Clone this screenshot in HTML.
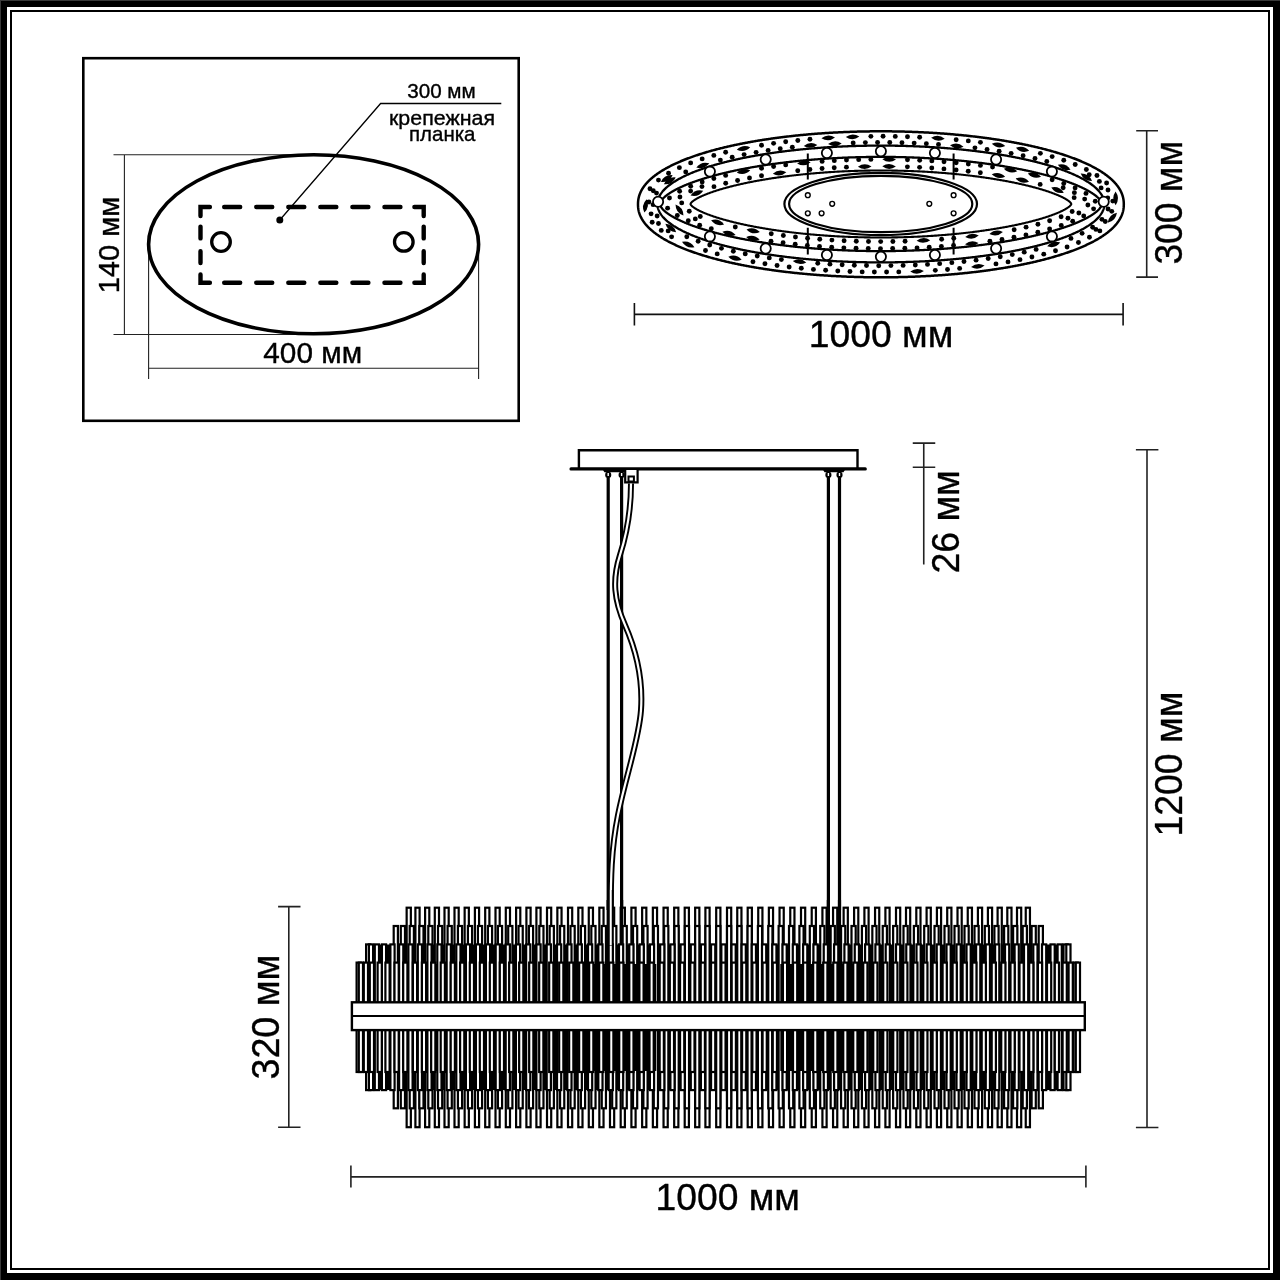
<!DOCTYPE html>
<html><head><meta charset="utf-8"><style>
html,body{margin:0;padding:0;background:#fff;width:1280px;height:1280px;overflow:hidden}
svg{display:block;font-family:"Liberation Sans",sans-serif;will-change:transform}
</style></head><body>
<svg width="1280" height="1280" viewBox="0 0 1280 1280"><rect x="0" y="0" width="1280" height="1280" fill="#000"/>
<rect x="0" y="0" width="1280" height="1" fill="#3a3a3a"/><rect x="0" y="0" width="1" height="1280" fill="#3a3a3a"/>
<rect x="7" y="7" width="1266" height="1266" fill="#fff"/>
<rect x="11" y="11" width="1258" height="1258" fill="none" stroke="#000" stroke-width="2"/>
<rect x="83.3" y="58.2" width="435.4" height="362.6" fill="none" stroke="#000" stroke-width="2.6"/>
<path d="M113.5 154.8H313 M113.5 334.5H313 M124.4 154.8V334.5 M148.6 255V379 M478.6 255V379 M148.6 368.2H478.6" stroke="#222" stroke-width="1.1" fill="none"/>
<ellipse cx="313.6" cy="244.3" rx="165" ry="89.5" fill="none" stroke="#000" stroke-width="3.6"/>
<path d="M200.5 216V207H209.9 M414.4 207H423.7V216 M200.5 274.5V282.7H209.9 M414.4 282.7H423.7V274.5 M224.2 207.0H240.2 M256.25 207.0H272.25 M288.3 207.0H304.3 M320.35 207.0H336.35 M352.4 207.0H368.4 M384.45 207.0H400.45 M224.2 282.7H240.2 M256.25 282.7H272.25 M288.3 282.7H304.3 M320.35 282.7H336.35 M352.4 282.7H368.4 M384.45 282.7H400.45 M200.5 226.6V238.4 M200.5 251.2V263 M423.7 226.6V238.4 M423.7 251.2V263" stroke="#000" stroke-width="4.4" stroke-linecap="round" stroke-linejoin="miter" fill="none"/>
<circle cx="221" cy="242" r="9.3" fill="none" stroke="#000" stroke-width="3.3"/>
<circle cx="403.8" cy="241.9" r="9.3" fill="none" stroke="#000" stroke-width="3.3"/>
<circle cx="279.8" cy="220" r="3.5" fill="#000"/>
<path d="M279.8 220L380.6 103.5H501.3" stroke="#000" stroke-width="1.3" fill="none"/>
<text x="407.2" y="97.8" font-size="19.5" font-family="Liberation Sans, sans-serif" stroke="#000" stroke-width="0.35" textLength="68.5" lengthAdjust="spacingAndGlyphs">300 мм</text>
<text x="389" y="125" font-size="20.4" font-family="Liberation Sans, sans-serif" stroke="#000" stroke-width="0.35" textLength="106" lengthAdjust="spacingAndGlyphs">крепежная</text>
<text x="409" y="140.6" font-size="20.4" font-family="Liberation Sans, sans-serif" stroke="#000" stroke-width="0.35" textLength="66.5" lengthAdjust="spacingAndGlyphs">планка</text>
<text transform="translate(118.9 293.3) rotate(-90)" x="0" y="0" font-size="29.3" font-family="Liberation Sans, sans-serif" stroke="#000" stroke-width="0.35" textLength="96.5" lengthAdjust="spacingAndGlyphs">140 мм</text>
<text x="263.3" y="363.4" font-size="28.8" font-family="Liberation Sans, sans-serif" stroke="#000" stroke-width="0.35" textLength="98.8" lengthAdjust="spacingAndGlyphs">400 мм</text>
<g fill="#000"><circle cx="1106.61" cy="182.96" r="2.45"/><circle cx="1096.95" cy="175.52" r="2.45"/><circle cx="1086.34" cy="169.52" r="2.45"/><circle cx="1075.21" cy="164.52" r="2.45"/><circle cx="1063.78" cy="160.26" r="2.45"/><circle cx="1052.15" cy="156.58" r="2.45"/><circle cx="1040.38" cy="153.37" r="2.45"/><circle cx="980.43" cy="142.33" r="2.45"/><circle cx="968.31" cy="140.9" r="2.45"/><circle cx="956.17" cy="139.68" r="2.45"/><circle cx="919.66" cy="137.18" r="2.45"/><circle cx="907.47" cy="136.72" r="2.45"/><circle cx="895.28" cy="136.42" r="2.45"/><circle cx="883.08" cy="136.31" r="2.45"/><circle cx="870.88" cy="136.36" r="2.45"/><circle cx="809.96" cy="139.29" r="2.45"/><circle cx="797.82" cy="140.44" r="2.45"/><circle cx="785.69" cy="141.8" r="2.45"/><circle cx="773.59" cy="143.37" r="2.45"/><circle cx="761.53" cy="145.19" r="2.45"/><circle cx="725.64" cy="152.32" r="2.45"/><circle cx="713.83" cy="155.38" r="2.45"/><circle cx="702.15" cy="158.89" r="2.45"/><circle cx="690.64" cy="162.92" r="2.45"/><circle cx="679.38" cy="167.64" r="2.45"/><circle cx="668.55" cy="173.24" r="2.45"/><circle cx="658.48" cy="180.1" r="2.45"/><circle cx="649.98" cy="188.8" r="2.45"/><circle cx="652.17" cy="222.31" r="2.45"/><circle cx="661.25" cy="230.41" r="2.45"/><circle cx="671.6" cy="236.86" r="2.45"/><circle cx="705.48" cy="250.56" r="2.45"/><circle cx="717.2" cy="253.92" r="2.45"/><circle cx="752.95" cy="261.75" r="2.45"/><circle cx="764.98" cy="263.75" r="2.45"/><circle cx="777.06" cy="265.49" r="2.45"/><circle cx="789.16" cy="267" r="2.45"/><circle cx="801.29" cy="268.3" r="2.45"/><circle cx="813.44" cy="269.39" r="2.45"/><circle cx="825.61" cy="270.29" r="2.45"/><circle cx="837.79" cy="271" r="2.45"/><circle cx="849.98" cy="271.53" r="2.45"/><circle cx="862.17" cy="271.88" r="2.45"/><circle cx="874.37" cy="272.06" r="2.45"/><circle cx="886.57" cy="272.07" r="2.45"/><circle cx="898.77" cy="271.9" r="2.45"/><circle cx="935.33" cy="270.35" r="2.45"/><circle cx="947.5" cy="269.46" r="2.45"/><circle cx="959.65" cy="268.38" r="2.45"/><circle cx="995.97" cy="263.88" r="2.45"/><circle cx="1008.01" cy="261.9" r="2.45"/><circle cx="1020" cy="259.64" r="2.45"/><circle cx="1031.92" cy="257.07" r="2.45"/><circle cx="1043.77" cy="254.15" r="2.45"/><circle cx="1055.5" cy="250.81" r="2.45"/><circle cx="1067.08" cy="246.97" r="2.45"/><circle cx="1078.44" cy="242.52" r="2.45"/><circle cx="1089.45" cy="237.27" r="2.45"/><circle cx="1099.85" cy="230.91" r="2.45"/><circle cx="1107.71" cy="198.07" r="2.45"/><circle cx="1101.13" cy="187.92" r="2.45"/><circle cx="1046.78" cy="161.55" r="2.45"/><circle cx="1034.99" cy="158.43" r="2.45"/><circle cx="1023.1" cy="155.71" r="2.45"/><circle cx="1011.13" cy="153.33" r="2.45"/><circle cx="999.11" cy="151.25" r="2.45"/><circle cx="987.05" cy="149.43" r="2.45"/><circle cx="974.95" cy="147.85" r="2.45"/><circle cx="938.51" cy="144.42" r="2.45"/><circle cx="926.34" cy="143.67" r="2.45"/><circle cx="914.15" cy="143.1" r="2.45"/><circle cx="901.96" cy="142.71" r="2.45"/><circle cx="889.76" cy="142.5" r="2.45"/><circle cx="877.56" cy="142.46" r="2.45"/><circle cx="865.36" cy="142.59" r="2.45"/><circle cx="853.16" cy="142.9" r="2.45"/><circle cx="792.33" cy="147.22" r="2.45"/><circle cx="780.22" cy="148.69" r="2.45"/><circle cx="768.14" cy="150.39" r="2.45"/><circle cx="756.1" cy="152.35" r="2.45"/><circle cx="744.11" cy="154.6" r="2.45"/><circle cx="732.18" cy="157.16" r="2.45"/><circle cx="720.34" cy="160.09" r="2.45"/><circle cx="685.74" cy="171.9" r="2.45"/><circle cx="656.5" cy="193.12" r="2.45"/><circle cx="653.12" cy="204.65" r="2.45"/><circle cx="657.14" cy="215.98" r="2.45"/><circle cx="686.8" cy="236.7" r="2.45"/><circle cx="698.14" cy="241.19" r="2.45"/><circle cx="709.72" cy="245.03" r="2.45"/><circle cx="721.46" cy="248.34" r="2.45"/><circle cx="733.31" cy="251.23" r="2.45"/><circle cx="745.25" cy="253.76" r="2.45"/><circle cx="757.25" cy="255.98" r="2.45"/><circle cx="769.29" cy="257.91" r="2.45"/><circle cx="781.37" cy="259.59" r="2.45"/><circle cx="817.78" cy="263.31" r="2.45"/><circle cx="829.95" cy="264.15" r="2.45"/><circle cx="842.14" cy="264.8" r="2.45"/><circle cx="854.33" cy="265.26" r="2.45"/><circle cx="866.52" cy="265.56" r="2.45"/><circle cx="878.72" cy="265.68" r="2.45"/><circle cx="890.92" cy="265.62" r="2.45"/><circle cx="903.12" cy="265.39" r="2.45"/><circle cx="915.31" cy="264.98" r="2.45"/><circle cx="927.5" cy="264.4" r="2.45"/><circle cx="939.67" cy="263.63" r="2.45"/><circle cx="951.84" cy="262.67" r="2.45"/><circle cx="963.98" cy="261.51" r="2.45"/><circle cx="976.1" cy="260.14" r="2.45"/><circle cx="988.2" cy="258.54" r="2.45"/><circle cx="1000.26" cy="256.7" r="2.45"/><circle cx="1012.27" cy="254.59" r="2.45"/><circle cx="1024.23" cy="252.17" r="2.45"/><circle cx="1036.12" cy="249.42" r="2.45"/><circle cx="1070.98" cy="238.39" r="2.45"/><circle cx="1082.1" cy="233.37" r="2.45"/><circle cx="1092.63" cy="227.22" r="2.45"/><circle cx="1101.93" cy="219.37" r="2.45"/><circle cx="1108.04" cy="208.95" r="2.45"/><circle cx="1095.26" cy="201.21" r="2.45"/><circle cx="1085.99" cy="193.4" r="2.45"/><circle cx="1075.12" cy="187.88" r="2.45"/><circle cx="1063.76" cy="183.44" r="2.45"/><circle cx="1052.15" cy="179.7" r="2.45"/><circle cx="992.52" cy="167.09" r="2.45"/><circle cx="980.43" cy="165.42" r="2.45"/><circle cx="968.32" cy="163.98" r="2.45"/><circle cx="956.18" cy="162.75" r="2.45"/><circle cx="944.02" cy="161.72" r="2.45"/><circle cx="931.85" cy="160.89" r="2.45"/><circle cx="919.67" cy="160.23" r="2.45"/><circle cx="907.48" cy="159.76" r="2.45"/><circle cx="870.88" cy="159.41" r="2.45"/><circle cx="858.69" cy="159.64" r="2.45"/><circle cx="846.49" cy="160.05" r="2.45"/><circle cx="834.31" cy="160.63" r="2.45"/><circle cx="822.13" cy="161.4" r="2.45"/><circle cx="785.7" cy="164.88" r="2.45"/><circle cx="773.61" cy="166.46" r="2.45"/><circle cx="761.54" cy="168.28" r="2.45"/><circle cx="725.65" cy="175.41" r="2.45"/><circle cx="713.85" cy="178.49" r="2.45"/><circle cx="702.17" cy="182.03" r="2.45"/><circle cx="690.71" cy="186.19" r="2.45"/><circle cx="679.62" cy="191.26" r="2.45"/><circle cx="669.46" cy="197.97" r="2.45"/><circle cx="667.6" cy="208.16" r="2.45"/><circle cx="677.3" cy="215.47" r="2.45"/><circle cx="688.27" cy="220.8" r="2.45"/><circle cx="699.67" cy="225.13" r="2.45"/><circle cx="711.31" cy="228.79" r="2.45"/><circle cx="770.99" cy="241.16" r="2.45"/><circle cx="783.08" cy="242.8" r="2.45"/><circle cx="795.2" cy="244.2" r="2.45"/><circle cx="807.34" cy="245.4" r="2.45"/><circle cx="819.5" cy="246.41" r="2.45"/><circle cx="831.67" cy="247.22" r="2.45"/><circle cx="843.86" cy="247.84" r="2.45"/><circle cx="856.05" cy="248.29" r="2.45"/><circle cx="868.25" cy="248.56" r="2.45"/><circle cx="880.45" cy="248.65" r="2.45"/><circle cx="892.65" cy="248.57" r="2.45"/><circle cx="904.84" cy="248.32" r="2.45"/><circle cx="917.03" cy="247.88" r="2.45"/><circle cx="929.22" cy="247.27" r="2.45"/><circle cx="941.39" cy="246.47" r="2.45"/><circle cx="953.55" cy="245.49" r="2.45"/><circle cx="989.91" cy="241.29" r="2.45"/><circle cx="1001.97" cy="239.44" r="2.45"/><circle cx="1013.98" cy="237.32" r="2.45"/><circle cx="1025.94" cy="234.92" r="2.45"/><circle cx="1037.83" cy="232.18" r="2.45"/><circle cx="1049.62" cy="229.04" r="2.45"/><circle cx="1061.27" cy="225.42" r="2.45"/><circle cx="1072.69" cy="221.15" r="2.45"/><circle cx="1083.71" cy="215.92" r="2.45"/><circle cx="1093.59" cy="208.83" r="2.45"/><circle cx="1074.15" cy="197.67" r="2.45"/><circle cx="1040.16" cy="184.41" r="2.45"/><circle cx="980.33" cy="172.72" r="2.45"/><circle cx="968.23" cy="171.22" r="2.45"/><circle cx="956.09" cy="169.95" r="2.45"/><circle cx="943.94" cy="168.88" r="2.45"/><circle cx="931.77" cy="168.01" r="2.45"/><circle cx="919.59" cy="167.34" r="2.45"/><circle cx="907.4" cy="166.85" r="2.45"/><circle cx="846.42" cy="167.15" r="2.45"/><circle cx="834.23" cy="167.76" r="2.45"/><circle cx="822.06" cy="168.56" r="2.45"/><circle cx="809.9" cy="169.55" r="2.45"/><circle cx="797.76" cy="170.76" r="2.45"/><circle cx="761.5" cy="175.74" r="2.45"/><circle cx="749.5" cy="177.93" r="2.45"/><circle cx="737.56" cy="180.43" r="2.45"/><circle cx="725.71" cy="183.31" r="2.45"/><circle cx="713.98" cy="186.65" r="2.45"/><circle cx="681.71" cy="202.92" r="2.45"/><circle cx="689.27" cy="211.31" r="2.45"/><circle cx="700.28" cy="216.53" r="2.45"/><circle cx="735.3" cy="227.05" r="2.45"/><circle cx="771.26" cy="233.82" r="2.45"/><circle cx="783.34" cy="235.52" r="2.45"/><circle cx="795.45" cy="236.99" r="2.45"/><circle cx="807.59" cy="238.23" r="2.45"/><circle cx="819.74" cy="239.27" r="2.45"/><circle cx="831.91" cy="240.11" r="2.45"/><circle cx="844.1" cy="240.75" r="2.45"/><circle cx="856.29" cy="241.21" r="2.45"/><circle cx="868.49" cy="241.49" r="2.45"/><circle cx="880.69" cy="241.58" r="2.45"/><circle cx="892.88" cy="241.49" r="2.45"/><circle cx="905.08" cy="241.22" r="2.45"/><circle cx="941.63" cy="239.3" r="2.45"/><circle cx="953.78" cy="238.27" r="2.45"/><circle cx="1014.15" cy="229.71" r="2.45"/><circle cx="1026.08" cy="227.15" r="2.45"/><circle cx="1037.92" cy="224.2" r="2.45"/><circle cx="1049.63" cy="220.78" r="2.45"/><circle cx="1061.12" cy="216.69" r="2.45"/><circle cx="1072.16" cy="211.52" r="2.45"/><circle cx="1084.68" cy="199.12" r="2.45"/><circle cx="1074.38" cy="192.63" r="2.45"/><circle cx="1063.18" cy="187.81" r="2.45"/><circle cx="701.95" cy="186.58" r="2.45"/><circle cx="690.63" cy="191.11" r="2.45"/><circle cx="679.94" cy="196.95" r="2.45"/><circle cx="695.31" cy="218.9" r="2.45"/><circle cx="1067.92" cy="218.31" r="2.45"/><circle cx="1078.87" cy="212.95" r="2.45"/><circle cx="1087.88" cy="204.97" r="2.45"/><circle cx="1112.78" cy="201.09" r="2.45"/><circle cx="1108" cy="190" r="2.45"/><circle cx="1099.39" cy="181.42" r="2.45"/><circle cx="1089.21" cy="174.72" r="2.45"/><circle cx="653.27" cy="190.74" r="2.45"/><circle cx="648.92" cy="201.99" r="2.45"/><circle cx="651.09" cy="213.84" r="2.45"/><circle cx="658.47" cy="223.47" r="2.45"/><circle cx="668.14" cy="230.88" r="2.45"/><circle cx="1095.93" cy="229.38" r="2.45"/><circle cx="1105.25" cy="221.54" r="2.45"/><circle cx="1111.76" cy="211.33" r="2.45"/><path transform="translate(1115.61 198.34) rotate(-90.23)" d="M-6.8 0Q0 -4.8 6.8 0Q0 4.8 -6.8 0Z"/><path transform="translate(1022.54 149.31) rotate(-167.54)" d="M-6.8 0Q0 -4.8 6.8 0Q0 4.8 -6.8 0Z"/><path transform="translate(998.54 144.95) rotate(-170.38)" d="M-6.8 0Q0 -4.8 6.8 0Q0 4.8 -6.8 0Z"/><path transform="translate(937.93 138.24) rotate(-175.64)" d="M-6.8 0Q0 -4.8 6.8 0Q0 4.8 -6.8 0Z"/><path transform="translate(852.58 136.79) rotate(178.54)" d="M-6.8 0Q0 -4.8 6.8 0Q0 4.8 -6.8 0Z"/><path transform="translate(828.21 137.96) rotate(176.83)" d="M-6.8 0Q0 -4.8 6.8 0Q0 4.8 -6.8 0Z"/><path transform="translate(743.52 148.45) rotate(169.56)" d="M-6.8 0Q0 -4.8 6.8 0Q0 4.8 -6.8 0Z"/><path transform="translate(645.51 205.89) rotate(99.9)" d="M-6.8 0Q0 -4.8 6.8 0Q0 4.8 -6.8 0Z"/><path transform="translate(688.24 244.43) rotate(23.56)" d="M-6.8 0Q0 -4.8 6.8 0Q0 4.8 -6.8 0Z"/><path transform="translate(735 258.17) rotate(13.1)" d="M-6.8 0Q0 -4.8 6.8 0Q0 4.8 -6.8 0Z"/><path transform="translate(917.06 271.3) rotate(-2)" d="M-6.8 0Q0 -4.8 6.8 0Q0 4.8 -6.8 0Z"/><path transform="translate(977.84 266.35) rotate(-6.51)" d="M-6.8 0Q0 -4.8 6.8 0Q0 4.8 -6.8 0Z"/><path transform="translate(1112.32 217.84) rotate(-47.39)" d="M-6.8 0Q0 -4.8 6.8 0Q0 4.8 -6.8 0Z"/><path transform="translate(1086.36 177.25) rotate(-146.53)" d="M-6.8 0Q0 -4.8 6.8 0Q0 4.8 -6.8 0Z"/><path transform="translate(1064.18 167.22) rotate(-158.26)" d="M-6.8 0Q0 -4.8 6.8 0Q0 4.8 -6.8 0Z"/><path transform="translate(956.75 145.93) rotate(-174.13)" d="M-6.8 0Q0 -4.8 6.8 0Q0 4.8 -6.8 0Z"/><path transform="translate(834.88 143.72) rotate(177.27)" d="M-6.8 0Q0 -4.8 6.8 0Q0 4.8 -6.8 0Z"/><path transform="translate(810.55 145.44) rotate(175.51)" d="M-6.8 0Q0 -4.8 6.8 0Q0 4.8 -6.8 0Z"/><path transform="translate(702.83 165.39) rotate(162.76)" d="M-6.8 0Q0 -4.8 6.8 0Q0 4.8 -6.8 0Z"/><path transform="translate(669.79 180.79) rotate(150.29)" d="M-6.8 0Q0 -4.8 6.8 0Q0 4.8 -6.8 0Z"/><path transform="translate(670.75 227.99) rotate(37.92)" d="M-6.8 0Q0 -4.8 6.8 0Q0 4.8 -6.8 0Z"/><path transform="translate(799.56 261.66) rotate(6.31)" d="M-6.8 0Q0 -4.8 6.8 0Q0 4.8 -6.8 0Z"/><path transform="translate(1053.72 244.45) rotate(-16.03)" d="M-6.8 0Q0 -4.8 6.8 0Q0 4.8 -6.8 0Z"/><path transform="translate(1034.45 175.06) rotate(-165.69)" d="M-6.8 0Q0 -4.8 6.8 0Q0 4.8 -6.8 0Z"/><path transform="translate(1010.57 170.08) rotate(-169.06)" d="M-6.8 0Q0 -4.8 6.8 0Q0 4.8 -6.8 0Z"/><path transform="translate(889.18 159.41) rotate(-179.02)" d="M-6.8 0Q0 -4.8 6.8 0Q0 4.8 -6.8 0Z"/><path transform="translate(803.9 162.94) rotate(175.04)" d="M-6.8 0Q0 -4.8 6.8 0Q0 4.8 -6.8 0Z"/><path transform="translate(743.54 171.54) rotate(169.56)" d="M-6.8 0Q0 -4.8 6.8 0Q0 4.8 -6.8 0Z"/><path transform="translate(729.03 233.34) rotate(14.01)" d="M-6.8 0Q0 -4.8 6.8 0Q0 4.8 -6.8 0Z"/><path transform="translate(752.93 238.22) rotate(10.75)" d="M-6.8 0Q0 -4.8 6.8 0Q0 4.8 -6.8 0Z"/><path transform="translate(971.76 243.6) rotate(-6.05)" d="M-6.8 0Q0 -4.8 6.8 0Q0 4.8 -6.8 0Z"/><path transform="translate(1057.55 190.07) rotate(-157.25)" d="M-6.8 0Q0 -4.8 6.8 0Q0 4.8 -6.8 0Z"/><path transform="translate(1022.38 180.07) rotate(-166.67)" d="M-6.8 0Q0 -4.8 6.8 0Q0 4.8 -6.8 0Z"/><path transform="translate(998.43 175.46) rotate(-169.9)" d="M-6.8 0Q0 -4.8 6.8 0Q0 4.8 -6.8 0Z"/><path transform="translate(889.1 166.48) rotate(-179.02)" d="M-6.8 0Q0 -4.8 6.8 0Q0 4.8 -6.8 0Z"/><path transform="translate(864.71 166.6) rotate(179.28)" d="M-6.8 0Q0 -4.8 6.8 0Q0 4.8 -6.8 0Z"/><path transform="translate(779.6 173.01) rotate(172.77)" d="M-6.8 0Q0 -4.8 6.8 0Q0 4.8 -6.8 0Z"/><path transform="translate(696.87 193.1) rotate(158.97)" d="M-6.8 0Q0 -4.8 6.8 0Q0 4.8 -6.8 0Z"/><path transform="translate(717.61 222.37) rotate(17.82)" d="M-6.8 0Q0 -4.8 6.8 0Q0 4.8 -6.8 0Z"/><path transform="translate(753.22 230.74) rotate(11.33)" d="M-6.8 0Q0 -4.8 6.8 0Q0 4.8 -6.8 0Z"/><path transform="translate(923.36 240.45) rotate(-2.57)" d="M-6.8 0Q0 -4.8 6.8 0Q0 4.8 -6.8 0Z"/><path transform="translate(971.98 236.31) rotate(-6.35)" d="M-6.8 0Q0 -4.8 6.8 0Q0 4.8 -6.8 0Z"/><path transform="translate(996.14 232.91) rotate(-8.57)" d="M-6.8 0Q0 -4.8 6.8 0Q0 4.8 -6.8 0Z"/><path transform="translate(679.48 210.01) rotate(54.42)" d="M-6.8 0Q0 -4.8 6.8 0Q0 4.8 -6.8 0Z"/><path transform="translate(666.75 178.57) rotate(149.99)" d="M-6.8 0Q0 -4.8 6.8 0Q0 4.8 -6.8 0Z"/></g>
<path d="M1123.8 204.3 L1123.8 203.83 L1123.79 203.41 L1123.78 203.01 L1123.76 202.61 L1123.74 202.22 L1123.72 201.83 L1123.69 201.45 L1123.65 201.08 L1123.61 200.71 L1123.57 200.34 L1123.52 199.97 L1123.47 199.6 L1123.41 199.24 L1123.35 198.88 L1123.28 198.52 L1123.21 198.16 L1123.13 197.81 L1123.05 197.46 L1122.97 197.1 L1122.88 196.75 L1122.78 196.4 L1122.68 196.06 L1122.58 195.71 L1122.47 195.36 L1122.36 195.02 L1122.24 194.67 L1122.12 194.33 L1121.99 193.99 L1121.86 193.65 L1121.72 193.31 L1121.58 192.97 L1121.44 192.64 L1121.29 192.3 L1121.13 191.96 L1120.97 191.63 L1120.81 191.3 L1120.64 190.96 L1120.47 190.63 L1120.29 190.3 L1120.11 189.97 L1119.92 189.64 L1119.73 189.31 L1119.54 188.99 L1119.34 188.66 L1119.13 188.33 L1118.92 188.01 L1118.71 187.68 L1118.49 187.36 L1118.27 187.04 L1118.04 186.71 L1117.81 186.39 L1117.57 186.07 L1117.33 185.75 L1117.09 185.43 L1116.84 185.11 L1116.58 184.8 L1116.33 184.48 L1116.06 184.16 L1115.8 183.85 L1115.52 183.53 L1115.25 183.22 L1114.97 182.9 L1114.68 182.59 L1114.39 182.28 L1114.1 181.97 L1113.8 181.66 L1113.49 181.35 L1113.19 181.04 L1112.87 180.73 L1112.56 180.42 L1112.24 180.12 L1111.91 179.81 L1111.58 179.5 L1111.25 179.2 L1110.91 178.89 L1110.57 178.59 L1110.22 178.29 L1109.87 177.99 L1109.51 177.69 L1109.15 177.39 L1108.79 177.09 L1108.42 176.79 L1108.04 176.49 L1107.67 176.19 L1107.28 175.89 L1106.9 175.6 L1106.51 175.3 L1106.11 175.01 L1105.71 174.71 L1105.31 174.42 L1104.9 174.13 L1104.49 173.84 L1104.07 173.55 L1103.65 173.26 L1103.23 172.97 L1102.8 172.68 L1102.37 172.39 L1101.93 172.1 L1101.49 171.82 L1101.04 171.53 L1100.59 171.25 L1100.14 170.96 L1099.68 170.68 L1099.22 170.4 L1098.75 170.12 L1098.28 169.83 L1097.8 169.55 L1097.33 169.28 L1096.84 169 L1096.35 168.72 L1095.86 168.44 L1095.37 168.17 L1094.87 167.89 L1094.36 167.62 L1093.86 167.34 L1093.35 167.07 L1092.83 166.8 L1092.31 166.53 L1091.79 166.26 L1091.26 165.99 L1090.73 165.72 L1090.19 165.45 L1089.65 165.18 L1089.11 164.91 L1088.56 164.65 L1088.01 164.38 L1087.45 164.12 L1086.89 163.86 L1086.33 163.6 L1085.76 163.33 L1085.19 163.07 L1084.61 162.81 L1084.03 162.55 L1083.45 162.3 L1082.86 162.04 L1082.27 161.78 L1081.68 161.53 L1081.08 161.27 L1080.48 161.02 L1079.87 160.77 L1079.26 160.52 L1078.65 160.26 L1078.03 160.01 L1077.41 159.77 L1076.79 159.52 L1076.16 159.27 L1075.52 159.02 L1074.89 158.78 L1074.25 158.53 L1073.61 158.29 L1072.96 158.05 L1072.31 157.8 L1071.65 157.56 L1071 157.32 L1070.33 157.08 L1069.67 156.85 L1069 156.61 L1068.33 156.37 L1067.65 156.14 L1066.97 155.9 L1066.29 155.67 L1065.6 155.44 L1064.91 155.2 L1064.22 154.97 L1063.52 154.74 L1062.82 154.51 L1062.12 154.29 L1061.41 154.06 L1060.7 153.83 L1059.98 153.61 L1059.27 153.39 L1058.55 153.16 L1057.82 152.94 L1057.09 152.72 L1056.36 152.5 L1055.63 152.28 L1054.89 152.06 L1054.15 151.84 L1053.4 151.63 L1052.66 151.41 L1051.91 151.2 L1051.15 150.99 L1050.39 150.77 L1049.63 150.56 L1048.87 150.35 L1048.1 150.14 L1047.33 149.94 L1046.56 149.73 L1045.78 149.52 L1045 149.32 L1044.22 149.11 L1043.43 148.91 L1042.64 148.71 L1041.85 148.51 L1041.06 148.31 L1040.26 148.11 L1039.46 147.91 L1038.65 147.72 L1037.84 147.52 L1037.03 147.33 L1036.22 147.13 L1035.4 146.94 L1034.58 146.75 L1033.76 146.56 L1032.94 146.37 L1032.11 146.18 L1031.28 145.99 L1030.44 145.81 L1029.61 145.62 L1028.77 145.44 L1027.93 145.26 L1027.08 145.07 L1026.23 144.89 L1025.38 144.71 L1024.53 144.54 L1023.67 144.36 L1022.81 144.18 L1021.95 144.01 L1021.09 143.83 L1020.22 143.66 L1019.35 143.49 L1018.48 143.32 L1017.61 143.15 L1016.73 142.98 L1015.85 142.81 L1014.97 142.65 L1014.08 142.48 L1013.19 142.32 L1012.3 142.16 L1011.41 141.99 L1010.51 141.83 L1009.62 141.67 L1008.72 141.52 L1007.81 141.36 L1006.91 141.2 L1006 141.05 L1005.09 140.89 L1004.18 140.74 L1003.27 140.59 L1002.35 140.44 L1001.43 140.29 L1000.51 140.14 L999.59 140 L998.66 139.85 L997.73 139.71 L996.8 139.56 L995.87 139.42 L994.93 139.28 L994 139.14 L993.06 139 L992.12 138.87 L991.17 138.73 L990.23 138.59 L989.28 138.46 L988.33 138.33 L987.38 138.2 L986.43 138.07 L985.47 137.94 L984.51 137.81 L983.55 137.68 L982.59 137.56 L981.63 137.43 L980.66 137.31 L979.7 137.19 L978.73 137.07 L977.76 136.95 L976.78 136.83 L975.81 136.71 L974.83 136.6 L973.85 136.48 L972.87 136.37 L971.89 136.26 L970.91 136.15 L969.92 136.04 L968.94 135.93 L967.95 135.82 L966.96 135.71 L965.97 135.61 L964.97 135.51 L963.98 135.4 L962.98 135.3 L961.98 135.2 L960.98 135.1 L959.98 135.01 L958.98 134.91 L957.97 134.81 L956.97 134.72 L955.96 134.63 L954.95 134.54 L953.94 134.45 L952.93 134.36 L951.92 134.27 L950.9 134.18 L949.89 134.1 L948.87 134.02 L947.85 133.93 L946.83 133.85 L945.81 133.77 L944.79 133.69 L943.77 133.62 L942.74 133.54 L941.72 133.46 L940.69 133.39 L939.66 133.32 L938.63 133.25 L937.6 133.18 L936.57 133.11 L935.54 133.04 L934.51 132.98 L933.47 132.91 L932.44 132.85 L931.4 132.78 L930.36 132.72 L929.33 132.66 L928.29 132.61 L927.25 132.55 L926.21 132.49 L925.17 132.44 L924.12 132.38 L923.08 132.33 L922.03 132.28 L920.99 132.23 L919.94 132.18 L918.9 132.14 L917.85 132.09 L916.8 132.05 L915.75 132 L914.71 131.96 L913.66 131.92 L912.6 131.88 L911.55 131.84 L910.5 131.81 L909.45 131.77 L908.4 131.74 L907.34 131.7 L906.29 131.67 L905.24 131.64 L904.18 131.61 L903.13 131.58 L902.07 131.56 L901.01 131.53 L899.96 131.51 L898.9 131.49 L897.84 131.47 L896.79 131.45 L895.73 131.43 L894.67 131.41 L893.61 131.39 L892.55 131.38 L891.5 131.36 L890.44 131.35 L889.38 131.34 L888.32 131.33 L887.26 131.32 L886.2 131.32 L885.14 131.31 L884.08 131.31 L883.02 131.3 L881.96 131.3 L880.9 131.3 L879.84 131.3 L878.78 131.3 L877.72 131.31 L876.66 131.31 L875.6 131.32 L874.54 131.32 L873.48 131.33 L872.42 131.34 L871.36 131.35 L870.3 131.36 L869.25 131.38 L868.19 131.39 L867.13 131.41 L866.07 131.43 L865.01 131.45 L863.96 131.47 L862.9 131.49 L861.84 131.51 L860.79 131.53 L859.73 131.56 L858.67 131.58 L857.62 131.61 L856.56 131.64 L855.51 131.67 L854.46 131.7 L853.4 131.74 L852.35 131.77 L851.3 131.81 L850.25 131.84 L849.2 131.88 L848.14 131.92 L847.09 131.96 L846.05 132 L845 132.05 L843.95 132.09 L842.9 132.14 L841.86 132.18 L840.81 132.23 L839.77 132.28 L838.72 132.33 L837.68 132.38 L836.63 132.44 L835.59 132.49 L834.55 132.55 L833.51 132.61 L832.47 132.66 L831.44 132.72 L830.4 132.78 L829.36 132.85 L828.33 132.91 L827.29 132.98 L826.26 133.04 L825.23 133.11 L824.2 133.18 L823.17 133.25 L822.14 133.32 L821.11 133.39 L820.08 133.46 L819.06 133.54 L818.03 133.62 L817.01 133.69 L815.99 133.77 L814.97 133.85 L813.95 133.93 L812.93 134.02 L811.91 134.1 L810.9 134.18 L809.88 134.27 L808.87 134.36 L807.86 134.45 L806.85 134.54 L805.84 134.63 L804.83 134.72 L803.83 134.81 L802.82 134.91 L801.82 135.01 L800.82 135.1 L799.82 135.2 L798.82 135.3 L797.82 135.4 L796.83 135.51 L795.83 135.61 L794.84 135.71 L793.85 135.82 L792.86 135.93 L791.88 136.04 L790.89 136.15 L789.91 136.26 L788.93 136.37 L787.95 136.48 L786.97 136.6 L785.99 136.71 L785.02 136.83 L784.04 136.95 L783.07 137.07 L782.1 137.19 L781.14 137.31 L780.17 137.43 L779.21 137.56 L778.25 137.68 L777.29 137.81 L776.33 137.94 L775.37 138.07 L774.42 138.2 L773.47 138.33 L772.52 138.46 L771.57 138.59 L770.63 138.73 L769.68 138.87 L768.74 139 L767.8 139.14 L766.87 139.28 L765.93 139.42 L765 139.56 L764.07 139.71 L763.14 139.85 L762.21 140 L761.29 140.14 L760.37 140.29 L759.45 140.44 L758.53 140.59 L757.62 140.74 L756.71 140.89 L755.8 141.05 L754.89 141.2 L753.99 141.36 L753.08 141.52 L752.18 141.67 L751.29 141.83 L750.39 141.99 L749.5 142.16 L748.61 142.32 L747.72 142.48 L746.83 142.65 L745.95 142.81 L745.07 142.98 L744.19 143.15 L743.32 143.32 L742.45 143.49 L741.58 143.66 L740.71 143.83 L739.85 144.01 L738.99 144.18 L738.13 144.36 L737.27 144.54 L736.42 144.71 L735.57 144.89 L734.72 145.07 L733.87 145.26 L733.03 145.44 L732.19 145.62 L731.36 145.81 L730.52 145.99 L729.69 146.18 L728.86 146.37 L728.04 146.56 L727.22 146.75 L726.4 146.94 L725.58 147.13 L724.77 147.33 L723.96 147.52 L723.15 147.72 L722.34 147.91 L721.54 148.11 L720.74 148.31 L719.95 148.51 L719.16 148.71 L718.37 148.91 L717.58 149.11 L716.8 149.32 L716.02 149.52 L715.24 149.73 L714.47 149.94 L713.7 150.14 L712.93 150.35 L712.17 150.56 L711.41 150.77 L710.65 150.99 L709.89 151.2 L709.14 151.41 L708.4 151.63 L707.65 151.84 L706.91 152.06 L706.17 152.28 L705.44 152.5 L704.71 152.72 L703.98 152.94 L703.25 153.16 L702.53 153.39 L701.82 153.61 L701.1 153.83 L700.39 154.06 L699.68 154.29 L698.98 154.51 L698.28 154.74 L697.58 154.97 L696.89 155.2 L696.2 155.44 L695.51 155.67 L694.83 155.9 L694.15 156.14 L693.47 156.37 L692.8 156.61 L692.13 156.85 L691.47 157.08 L690.8 157.32 L690.15 157.56 L689.49 157.8 L688.84 158.05 L688.19 158.29 L687.55 158.53 L686.91 158.78 L686.28 159.02 L685.64 159.27 L685.01 159.52 L684.39 159.77 L683.77 160.01 L683.15 160.26 L682.54 160.52 L681.93 160.77 L681.32 161.02 L680.72 161.27 L680.12 161.53 L679.53 161.78 L678.94 162.04 L678.35 162.3 L677.77 162.55 L677.19 162.81 L676.61 163.07 L676.04 163.33 L675.47 163.6 L674.91 163.86 L674.35 164.12 L673.79 164.38 L673.24 164.65 L672.69 164.91 L672.15 165.18 L671.61 165.45 L671.07 165.72 L670.54 165.99 L670.01 166.26 L669.49 166.53 L668.97 166.8 L668.45 167.07 L667.94 167.34 L667.44 167.62 L666.93 167.89 L666.43 168.17 L665.94 168.44 L665.45 168.72 L664.96 169 L664.47 169.28 L664 169.55 L663.52 169.83 L663.05 170.12 L662.58 170.4 L662.12 170.68 L661.66 170.96 L661.21 171.25 L660.76 171.53 L660.31 171.82 L659.87 172.1 L659.43 172.39 L659 172.68 L658.57 172.97 L658.15 173.26 L657.73 173.55 L657.31 173.84 L656.9 174.13 L656.49 174.42 L656.09 174.71 L655.69 175.01 L655.29 175.3 L654.9 175.6 L654.52 175.89 L654.13 176.19 L653.76 176.49 L653.38 176.79 L653.01 177.09 L652.65 177.39 L652.29 177.69 L651.93 177.99 L651.58 178.29 L651.23 178.59 L650.89 178.89 L650.55 179.2 L650.22 179.5 L649.89 179.81 L649.56 180.12 L649.24 180.42 L648.93 180.73 L648.61 181.04 L648.31 181.35 L648 181.66 L647.7 181.97 L647.41 182.28 L647.12 182.59 L646.83 182.9 L646.55 183.22 L646.28 183.53 L646 183.85 L645.74 184.16 L645.47 184.48 L645.22 184.8 L644.96 185.11 L644.71 185.43 L644.47 185.75 L644.23 186.07 L643.99 186.39 L643.76 186.71 L643.53 187.04 L643.31 187.36 L643.09 187.68 L642.88 188.01 L642.67 188.33 L642.46 188.66 L642.26 188.99 L642.07 189.31 L641.88 189.64 L641.69 189.97 L641.51 190.3 L641.33 190.63 L641.16 190.96 L640.99 191.3 L640.83 191.63 L640.67 191.96 L640.51 192.3 L640.36 192.64 L640.22 192.97 L640.08 193.31 L639.94 193.65 L639.81 193.99 L639.68 194.33 L639.56 194.67 L639.44 195.02 L639.33 195.36 L639.22 195.71 L639.12 196.06 L639.02 196.4 L638.92 196.75 L638.83 197.1 L638.75 197.46 L638.67 197.81 L638.59 198.16 L638.52 198.52 L638.45 198.88 L638.39 199.24 L638.33 199.6 L638.28 199.97 L638.23 200.34 L638.19 200.71 L638.15 201.08 L638.11 201.45 L638.08 201.83 L638.06 202.22 L638.04 202.61 L638.02 203.01 L638.01 203.41 L638 203.83 L638 204.3 L638 204.77 L638.01 205.19 L638.02 205.59 L638.04 205.99 L638.06 206.38 L638.08 206.77 L638.11 207.15 L638.15 207.52 L638.19 207.89 L638.23 208.26 L638.28 208.63 L638.33 209 L638.39 209.36 L638.45 209.72 L638.52 210.08 L638.59 210.44 L638.67 210.79 L638.75 211.14 L638.83 211.5 L638.92 211.85 L639.02 212.2 L639.12 212.54 L639.22 212.89 L639.33 213.24 L639.44 213.58 L639.56 213.93 L639.68 214.27 L639.81 214.61 L639.94 214.95 L640.08 215.29 L640.22 215.63 L640.36 215.96 L640.51 216.3 L640.67 216.64 L640.83 216.97 L640.99 217.3 L641.16 217.64 L641.33 217.97 L641.51 218.3 L641.69 218.63 L641.88 218.96 L642.07 219.29 L642.26 219.61 L642.46 219.94 L642.67 220.27 L642.88 220.59 L643.09 220.92 L643.31 221.24 L643.53 221.56 L643.76 221.89 L643.99 222.21 L644.23 222.53 L644.47 222.85 L644.71 223.17 L644.96 223.49 L645.22 223.8 L645.47 224.12 L645.74 224.44 L646 224.75 L646.28 225.07 L646.55 225.38 L646.83 225.7 L647.12 226.01 L647.41 226.32 L647.7 226.63 L648 226.94 L648.31 227.25 L648.61 227.56 L648.93 227.87 L649.24 228.18 L649.56 228.48 L649.89 228.79 L650.22 229.1 L650.55 229.4 L650.89 229.71 L651.23 230.01 L651.58 230.31 L651.93 230.61 L652.29 230.91 L652.65 231.21 L653.01 231.51 L653.38 231.81 L653.76 232.11 L654.13 232.41 L654.52 232.71 L654.9 233 L655.29 233.3 L655.69 233.59 L656.09 233.89 L656.49 234.18 L656.9 234.47 L657.31 234.76 L657.73 235.05 L658.15 235.34 L658.57 235.63 L659 235.92 L659.43 236.21 L659.87 236.5 L660.31 236.78 L660.76 237.07 L661.21 237.35 L661.66 237.64 L662.12 237.92 L662.58 238.2 L663.05 238.48 L663.52 238.77 L664 239.05 L664.47 239.32 L664.96 239.6 L665.45 239.88 L665.94 240.16 L666.43 240.43 L666.93 240.71 L667.44 240.98 L667.94 241.26 L668.45 241.53 L668.97 241.8 L669.49 242.07 L670.01 242.34 L670.54 242.61 L671.07 242.88 L671.61 243.15 L672.15 243.42 L672.69 243.69 L673.24 243.95 L673.79 244.22 L674.35 244.48 L674.91 244.74 L675.47 245 L676.04 245.27 L676.61 245.53 L677.19 245.79 L677.77 246.05 L678.35 246.3 L678.94 246.56 L679.53 246.82 L680.12 247.07 L680.72 247.33 L681.32 247.58 L681.93 247.83 L682.54 248.08 L683.15 248.34 L683.77 248.59 L684.39 248.83 L685.01 249.08 L685.64 249.33 L686.28 249.58 L686.91 249.82 L687.55 250.07 L688.19 250.31 L688.84 250.55 L689.49 250.8 L690.15 251.04 L690.8 251.28 L691.47 251.52 L692.13 251.75 L692.8 251.99 L693.47 252.23 L694.15 252.46 L694.83 252.7 L695.51 252.93 L696.2 253.16 L696.89 253.4 L697.58 253.63 L698.28 253.86 L698.98 254.09 L699.68 254.31 L700.39 254.54 L701.1 254.77 L701.82 254.99 L702.53 255.21 L703.25 255.44 L703.98 255.66 L704.71 255.88 L705.44 256.1 L706.17 256.32 L706.91 256.54 L707.65 256.76 L708.4 256.97 L709.14 257.19 L709.89 257.4 L710.65 257.61 L711.41 257.83 L712.17 258.04 L712.93 258.25 L713.7 258.46 L714.47 258.66 L715.24 258.87 L716.02 259.08 L716.8 259.28 L717.58 259.49 L718.37 259.69 L719.16 259.89 L719.95 260.09 L720.74 260.29 L721.54 260.49 L722.34 260.69 L723.15 260.88 L723.96 261.08 L724.77 261.27 L725.58 261.47 L726.4 261.66 L727.22 261.85 L728.04 262.04 L728.86 262.23 L729.69 262.42 L730.52 262.61 L731.36 262.79 L732.19 262.98 L733.03 263.16 L733.87 263.34 L734.72 263.53 L735.57 263.71 L736.42 263.89 L737.27 264.06 L738.13 264.24 L738.99 264.42 L739.85 264.59 L740.71 264.77 L741.58 264.94 L742.45 265.11 L743.32 265.28 L744.19 265.45 L745.07 265.62 L745.95 265.79 L746.83 265.95 L747.72 266.12 L748.61 266.28 L749.5 266.44 L750.39 266.61 L751.29 266.77 L752.18 266.93 L753.08 267.08 L753.99 267.24 L754.89 267.4 L755.8 267.55 L756.71 267.71 L757.62 267.86 L758.53 268.01 L759.45 268.16 L760.37 268.31 L761.29 268.46 L762.21 268.6 L763.14 268.75 L764.07 268.89 L765 269.04 L765.93 269.18 L766.87 269.32 L767.8 269.46 L768.74 269.6 L769.68 269.73 L770.63 269.87 L771.57 270.01 L772.52 270.14 L773.47 270.27 L774.42 270.4 L775.37 270.53 L776.33 270.66 L777.29 270.79 L778.25 270.92 L779.21 271.04 L780.17 271.17 L781.14 271.29 L782.1 271.41 L783.07 271.53 L784.04 271.65 L785.02 271.77 L785.99 271.89 L786.97 272 L787.95 272.12 L788.93 272.23 L789.91 272.34 L790.89 272.45 L791.88 272.56 L792.86 272.67 L793.85 272.78 L794.84 272.89 L795.83 272.99 L796.83 273.09 L797.82 273.2 L798.82 273.3 L799.82 273.4 L800.82 273.5 L801.82 273.59 L802.82 273.69 L803.83 273.79 L804.83 273.88 L805.84 273.97 L806.85 274.06 L807.86 274.15 L808.87 274.24 L809.88 274.33 L810.9 274.42 L811.91 274.5 L812.93 274.58 L813.95 274.67 L814.97 274.75 L815.99 274.83 L817.01 274.91 L818.03 274.98 L819.06 275.06 L820.08 275.14 L821.11 275.21 L822.14 275.28 L823.17 275.35 L824.2 275.42 L825.23 275.49 L826.26 275.56 L827.29 275.62 L828.33 275.69 L829.36 275.75 L830.4 275.82 L831.44 275.88 L832.47 275.94 L833.51 275.99 L834.55 276.05 L835.59 276.11 L836.63 276.16 L837.68 276.22 L838.72 276.27 L839.77 276.32 L840.81 276.37 L841.86 276.42 L842.9 276.46 L843.95 276.51 L845 276.55 L846.05 276.6 L847.09 276.64 L848.14 276.68 L849.2 276.72 L850.25 276.76 L851.3 276.79 L852.35 276.83 L853.4 276.86 L854.46 276.9 L855.51 276.93 L856.56 276.96 L857.62 276.99 L858.67 277.02 L859.73 277.04 L860.79 277.07 L861.84 277.09 L862.9 277.11 L863.96 277.13 L865.01 277.15 L866.07 277.17 L867.13 277.19 L868.19 277.21 L869.25 277.22 L870.3 277.24 L871.36 277.25 L872.42 277.26 L873.48 277.27 L874.54 277.28 L875.6 277.28 L876.66 277.29 L877.72 277.29 L878.78 277.3 L879.84 277.3 L880.9 277.3 L881.96 277.3 L883.02 277.3 L884.08 277.29 L885.14 277.29 L886.2 277.28 L887.26 277.28 L888.32 277.27 L889.38 277.26 L890.44 277.25 L891.5 277.24 L892.55 277.22 L893.61 277.21 L894.67 277.19 L895.73 277.17 L896.79 277.15 L897.84 277.13 L898.9 277.11 L899.96 277.09 L901.01 277.07 L902.07 277.04 L903.13 277.02 L904.18 276.99 L905.24 276.96 L906.29 276.93 L907.34 276.9 L908.4 276.86 L909.45 276.83 L910.5 276.79 L911.55 276.76 L912.6 276.72 L913.66 276.68 L914.71 276.64 L915.75 276.6 L916.8 276.55 L917.85 276.51 L918.9 276.46 L919.94 276.42 L920.99 276.37 L922.03 276.32 L923.08 276.27 L924.12 276.22 L925.17 276.16 L926.21 276.11 L927.25 276.05 L928.29 275.99 L929.33 275.94 L930.36 275.88 L931.4 275.82 L932.44 275.75 L933.47 275.69 L934.51 275.62 L935.54 275.56 L936.57 275.49 L937.6 275.42 L938.63 275.35 L939.66 275.28 L940.69 275.21 L941.72 275.14 L942.74 275.06 L943.77 274.98 L944.79 274.91 L945.81 274.83 L946.83 274.75 L947.85 274.67 L948.87 274.58 L949.89 274.5 L950.9 274.42 L951.92 274.33 L952.93 274.24 L953.94 274.15 L954.95 274.06 L955.96 273.97 L956.97 273.88 L957.97 273.79 L958.98 273.69 L959.98 273.59 L960.98 273.5 L961.98 273.4 L962.98 273.3 L963.98 273.2 L964.97 273.09 L965.97 272.99 L966.96 272.89 L967.95 272.78 L968.94 272.67 L969.92 272.56 L970.91 272.45 L971.89 272.34 L972.87 272.23 L973.85 272.12 L974.83 272 L975.81 271.89 L976.78 271.77 L977.76 271.65 L978.73 271.53 L979.7 271.41 L980.66 271.29 L981.63 271.17 L982.59 271.04 L983.55 270.92 L984.51 270.79 L985.47 270.66 L986.43 270.53 L987.38 270.4 L988.33 270.27 L989.28 270.14 L990.23 270.01 L991.17 269.87 L992.12 269.73 L993.06 269.6 L994 269.46 L994.93 269.32 L995.87 269.18 L996.8 269.04 L997.73 268.89 L998.66 268.75 L999.59 268.6 L1000.51 268.46 L1001.43 268.31 L1002.35 268.16 L1003.27 268.01 L1004.18 267.86 L1005.09 267.71 L1006 267.55 L1006.91 267.4 L1007.81 267.24 L1008.72 267.08 L1009.62 266.93 L1010.51 266.77 L1011.41 266.61 L1012.3 266.44 L1013.19 266.28 L1014.08 266.12 L1014.97 265.95 L1015.85 265.79 L1016.73 265.62 L1017.61 265.45 L1018.48 265.28 L1019.35 265.11 L1020.22 264.94 L1021.09 264.77 L1021.95 264.59 L1022.81 264.42 L1023.67 264.24 L1024.53 264.06 L1025.38 263.89 L1026.23 263.71 L1027.08 263.53 L1027.93 263.34 L1028.77 263.16 L1029.61 262.98 L1030.44 262.79 L1031.28 262.61 L1032.11 262.42 L1032.94 262.23 L1033.76 262.04 L1034.58 261.85 L1035.4 261.66 L1036.22 261.47 L1037.03 261.27 L1037.84 261.08 L1038.65 260.88 L1039.46 260.69 L1040.26 260.49 L1041.06 260.29 L1041.85 260.09 L1042.64 259.89 L1043.43 259.69 L1044.22 259.49 L1045 259.28 L1045.78 259.08 L1046.56 258.87 L1047.33 258.66 L1048.1 258.46 L1048.87 258.25 L1049.63 258.04 L1050.39 257.83 L1051.15 257.61 L1051.91 257.4 L1052.66 257.19 L1053.4 256.97 L1054.15 256.76 L1054.89 256.54 L1055.63 256.32 L1056.36 256.1 L1057.09 255.88 L1057.82 255.66 L1058.55 255.44 L1059.27 255.21 L1059.98 254.99 L1060.7 254.77 L1061.41 254.54 L1062.12 254.31 L1062.82 254.09 L1063.52 253.86 L1064.22 253.63 L1064.91 253.4 L1065.6 253.16 L1066.29 252.93 L1066.97 252.7 L1067.65 252.46 L1068.33 252.23 L1069 251.99 L1069.67 251.75 L1070.33 251.52 L1071 251.28 L1071.65 251.04 L1072.31 250.8 L1072.96 250.55 L1073.61 250.31 L1074.25 250.07 L1074.89 249.82 L1075.52 249.58 L1076.16 249.33 L1076.79 249.08 L1077.41 248.83 L1078.03 248.59 L1078.65 248.34 L1079.26 248.08 L1079.87 247.83 L1080.48 247.58 L1081.08 247.33 L1081.68 247.07 L1082.27 246.82 L1082.86 246.56 L1083.45 246.3 L1084.03 246.05 L1084.61 245.79 L1085.19 245.53 L1085.76 245.27 L1086.33 245 L1086.89 244.74 L1087.45 244.48 L1088.01 244.22 L1088.56 243.95 L1089.11 243.69 L1089.65 243.42 L1090.19 243.15 L1090.73 242.88 L1091.26 242.61 L1091.79 242.34 L1092.31 242.07 L1092.83 241.8 L1093.35 241.53 L1093.86 241.26 L1094.36 240.98 L1094.87 240.71 L1095.37 240.43 L1095.86 240.16 L1096.35 239.88 L1096.84 239.6 L1097.33 239.32 L1097.8 239.05 L1098.28 238.77 L1098.75 238.48 L1099.22 238.2 L1099.68 237.92 L1100.14 237.64 L1100.59 237.35 L1101.04 237.07 L1101.49 236.78 L1101.93 236.5 L1102.37 236.21 L1102.8 235.92 L1103.23 235.63 L1103.65 235.34 L1104.07 235.05 L1104.49 234.76 L1104.9 234.47 L1105.31 234.18 L1105.71 233.89 L1106.11 233.59 L1106.51 233.3 L1106.9 233 L1107.28 232.71 L1107.67 232.41 L1108.04 232.11 L1108.42 231.81 L1108.79 231.51 L1109.15 231.21 L1109.51 230.91 L1109.87 230.61 L1110.22 230.31 L1110.57 230.01 L1110.91 229.71 L1111.25 229.4 L1111.58 229.1 L1111.91 228.79 L1112.24 228.48 L1112.56 228.18 L1112.87 227.87 L1113.19 227.56 L1113.49 227.25 L1113.8 226.94 L1114.1 226.63 L1114.39 226.32 L1114.68 226.01 L1114.97 225.7 L1115.25 225.38 L1115.52 225.07 L1115.8 224.75 L1116.06 224.44 L1116.33 224.12 L1116.58 223.8 L1116.84 223.49 L1117.09 223.17 L1117.33 222.85 L1117.57 222.53 L1117.81 222.21 L1118.04 221.89 L1118.27 221.56 L1118.49 221.24 L1118.71 220.92 L1118.92 220.59 L1119.13 220.27 L1119.34 219.94 L1119.54 219.61 L1119.73 219.29 L1119.92 218.96 L1120.11 218.63 L1120.29 218.3 L1120.47 217.97 L1120.64 217.64 L1120.81 217.3 L1120.97 216.97 L1121.13 216.64 L1121.29 216.3 L1121.44 215.96 L1121.58 215.63 L1121.72 215.29 L1121.86 214.95 L1121.99 214.61 L1122.12 214.27 L1122.24 213.93 L1122.36 213.58 L1122.47 213.24 L1122.58 212.89 L1122.68 212.54 L1122.78 212.2 L1122.88 211.85 L1122.97 211.5 L1123.05 211.14 L1123.13 210.79 L1123.21 210.44 L1123.28 210.08 L1123.35 209.72 L1123.41 209.36 L1123.47 209 L1123.52 208.63 L1123.57 208.26 L1123.61 207.89 L1123.65 207.52 L1123.69 207.15 L1123.72 206.77 L1123.74 206.38 L1123.76 205.99 L1123.78 205.59 L1123.79 205.19 L1123.8 204.77Z" fill="none" stroke="#000" stroke-width="2.5"/>
<path d="M1104.4 204 L1104.4 203.75 L1104.39 203.49 L1104.38 203.24 L1104.37 202.98 L1104.35 202.73 L1104.32 202.47 L1104.3 202.22 L1104.26 201.96 L1104.23 201.71 L1104.19 201.45 L1104.14 201.2 L1104.09 200.94 L1104.04 200.69 L1103.98 200.43 L1103.92 200.18 L1103.86 199.93 L1103.79 199.67 L1103.71 199.42 L1103.63 199.16 L1103.55 198.91 L1103.46 198.66 L1103.37 198.4 L1103.28 198.15 L1103.18 197.9 L1103.07 197.64 L1102.96 197.39 L1102.85 197.14 L1102.73 196.88 L1102.61 196.63 L1102.49 196.38 L1102.36 196.12 L1102.22 195.87 L1102.09 195.62 L1101.95 195.37 L1101.8 195.12 L1101.65 194.86 L1101.49 194.61 L1101.33 194.36 L1101.17 194.11 L1101 193.86 L1100.83 193.61 L1100.66 193.36 L1100.48 193.11 L1100.29 192.86 L1100.11 192.61 L1099.91 192.36 L1099.72 192.11 L1099.52 191.86 L1099.31 191.61 L1099.1 191.36 L1098.89 191.11 L1098.67 190.86 L1098.45 190.61 L1098.22 190.37 L1097.99 190.12 L1097.76 189.87 L1097.52 189.62 L1097.28 189.38 L1097.03 189.13 L1096.78 188.88 L1096.53 188.64 L1096.27 188.39 L1096.01 188.15 L1095.74 187.9 L1095.47 187.66 L1095.2 187.41 L1094.92 187.17 L1094.63 186.93 L1094.35 186.68 L1094.06 186.44 L1093.76 186.2 L1093.46 185.95 L1093.16 185.71 L1092.85 185.47 L1092.54 185.23 L1092.22 184.99 L1091.9 184.75 L1091.58 184.51 L1091.25 184.27 L1090.92 184.03 L1090.59 183.79 L1090.25 183.55 L1089.9 183.31 L1089.56 183.07 L1089.2 182.83 L1088.85 182.6 L1088.49 182.36 L1088.13 182.12 L1087.76 181.89 L1087.39 181.65 L1087.01 181.42 L1086.63 181.18 L1086.25 180.95 L1085.86 180.71 L1085.47 180.48 L1085.08 180.25 L1084.68 180.01 L1084.28 179.78 L1083.87 179.55 L1083.46 179.32 L1083.05 179.09 L1082.63 178.86 L1082.21 178.63 L1081.78 178.4 L1081.35 178.17 L1080.92 177.94 L1080.48 177.71 L1080.04 177.49 L1079.6 177.26 L1079.15 177.03 L1078.69 176.81 L1078.24 176.58 L1077.78 176.36 L1077.32 176.13 L1076.85 175.91 L1076.38 175.69 L1075.9 175.46 L1075.42 175.24 L1074.94 175.02 L1074.46 174.8 L1073.97 174.58 L1073.47 174.36 L1072.98 174.14 L1072.48 173.92 L1071.97 173.7 L1071.47 173.49 L1070.95 173.27 L1070.44 173.05 L1069.92 172.84 L1069.4 172.62 L1068.87 172.41 L1068.34 172.19 L1067.81 171.98 L1067.27 171.77 L1066.73 171.55 L1066.19 171.34 L1065.64 171.13 L1065.09 170.92 L1064.54 170.71 L1063.98 170.5 L1063.42 170.29 L1062.85 170.09 L1062.29 169.88 L1061.72 169.67 L1061.14 169.47 L1060.56 169.26 L1059.98 169.06 L1059.4 168.85 L1058.81 168.65 L1058.21 168.45 L1057.62 168.25 L1057.02 168.05 L1056.42 167.84 L1055.81 167.65 L1055.2 167.45 L1054.59 167.25 L1053.98 167.05 L1053.36 166.85 L1052.74 166.66 L1052.11 166.46 L1051.48 166.27 L1050.85 166.07 L1050.22 165.88 L1049.58 165.69 L1048.94 165.49 L1048.29 165.3 L1047.64 165.11 L1046.99 164.92 L1046.34 164.73 L1045.68 164.55 L1045.02 164.36 L1044.36 164.17 L1043.69 163.99 L1043.02 163.8 L1042.35 163.62 L1041.67 163.43 L1040.99 163.25 L1040.31 163.07 L1039.63 162.89 L1038.94 162.7 L1038.25 162.53 L1037.55 162.35 L1036.86 162.17 L1036.16 161.99 L1035.45 161.81 L1034.75 161.64 L1034.04 161.46 L1033.33 161.29 L1032.61 161.12 L1031.89 160.94 L1031.17 160.77 L1030.45 160.6 L1029.72 160.43 L1029 160.26 L1028.26 160.09 L1027.53 159.92 L1026.79 159.76 L1026.05 159.59 L1025.31 159.43 L1024.56 159.26 L1023.81 159.1 L1023.06 158.94 L1022.31 158.78 L1021.55 158.61 L1020.79 158.45 L1020.03 158.3 L1019.27 158.14 L1018.5 157.98 L1017.73 157.82 L1016.96 157.67 L1016.18 157.51 L1015.41 157.36 L1014.63 157.21 L1013.84 157.05 L1013.06 156.9 L1012.27 156.75 L1011.48 156.6 L1010.69 156.46 L1009.89 156.31 L1009.09 156.16 L1008.29 156.02 L1007.49 155.87 L1006.69 155.73 L1005.88 155.58 L1005.07 155.44 L1004.26 155.3 L1003.44 155.16 L1002.63 155.02 L1001.81 154.88 L1000.99 154.75 L1000.16 154.61 L999.34 154.47 L998.51 154.34 L997.68 154.21 L996.85 154.07 L996.01 153.94 L995.17 153.81 L994.33 153.68 L993.49 153.55 L992.65 153.42 L991.8 153.3 L990.96 153.17 L990.11 153.05 L989.25 152.92 L988.4 152.8 L987.54 152.68 L986.69 152.56 L985.83 152.44 L984.96 152.32 L984.1 152.2 L983.23 152.08 L982.37 151.97 L981.5 151.85 L980.63 151.74 L979.75 151.62 L978.88 151.51 L978 151.4 L977.12 151.29 L976.24 151.18 L975.36 151.07 L974.47 150.96 L973.58 150.86 L972.7 150.75 L971.81 150.65 L970.91 150.55 L970.02 150.44 L969.13 150.34 L968.23 150.24 L967.33 150.14 L966.43 150.05 L965.53 149.95 L964.62 149.85 L963.72 149.76 L962.81 149.66 L961.9 149.57 L961 149.48 L960.08 149.39 L959.17 149.3 L958.26 149.21 L957.34 149.12 L956.42 149.04 L955.51 148.95 L954.59 148.87 L953.66 148.78 L952.74 148.7 L951.82 148.62 L950.89 148.54 L949.97 148.46 L949.04 148.38 L948.11 148.3 L947.18 148.23 L946.25 148.15 L945.31 148.08 L944.38 148 L943.44 147.93 L942.5 147.86 L941.57 147.79 L940.63 147.72 L939.69 147.66 L938.75 147.59 L937.8 147.52 L936.86 147.46 L935.92 147.4 L934.97 147.33 L934.02 147.27 L933.08 147.21 L932.13 147.15 L931.18 147.1 L930.23 147.04 L929.27 146.98 L928.32 146.93 L927.37 146.88 L926.41 146.82 L925.46 146.77 L924.5 146.72 L923.55 146.67 L922.59 146.62 L921.63 146.58 L920.67 146.53 L919.71 146.49 L918.75 146.44 L917.79 146.4 L916.83 146.36 L915.86 146.32 L914.9 146.28 L913.94 146.24 L912.97 146.2 L912.01 146.17 L911.04 146.13 L910.07 146.1 L909.11 146.07 L908.14 146.04 L907.17 146 L906.2 145.98 L905.23 145.95 L904.26 145.92 L903.29 145.89 L902.32 145.87 L901.35 145.84 L900.38 145.82 L899.41 145.8 L898.44 145.78 L897.46 145.76 L896.49 145.74 L895.52 145.73 L894.54 145.71 L893.57 145.69 L892.6 145.68 L891.62 145.67 L890.65 145.66 L889.67 145.65 L888.7 145.64 L887.73 145.63 L886.75 145.62 L885.78 145.61 L884.8 145.61 L883.83 145.61 L882.85 145.6 L881.88 145.6 L880.9 145.6 L879.92 145.6 L878.95 145.6 L877.97 145.61 L877 145.61 L876.02 145.61 L875.05 145.62 L874.07 145.63 L873.1 145.64 L872.13 145.65 L871.15 145.66 L870.18 145.67 L869.2 145.68 L868.23 145.69 L867.26 145.71 L866.28 145.73 L865.31 145.74 L864.34 145.76 L863.36 145.78 L862.39 145.8 L861.42 145.82 L860.45 145.84 L859.48 145.87 L858.51 145.89 L857.54 145.92 L856.57 145.95 L855.6 145.98 L854.63 146 L853.66 146.04 L852.69 146.07 L851.73 146.1 L850.76 146.13 L849.79 146.17 L848.83 146.2 L847.86 146.24 L846.9 146.28 L845.94 146.32 L844.97 146.36 L844.01 146.4 L843.05 146.44 L842.09 146.49 L841.13 146.53 L840.17 146.58 L839.21 146.62 L838.25 146.67 L837.3 146.72 L836.34 146.77 L835.39 146.82 L834.43 146.88 L833.48 146.93 L832.53 146.98 L831.57 147.04 L830.62 147.1 L829.67 147.15 L828.72 147.21 L827.78 147.27 L826.83 147.33 L825.88 147.4 L824.94 147.46 L824 147.52 L823.05 147.59 L822.11 147.66 L821.17 147.72 L820.23 147.79 L819.3 147.86 L818.36 147.93 L817.42 148 L816.49 148.08 L815.55 148.15 L814.62 148.23 L813.69 148.3 L812.76 148.38 L811.83 148.46 L810.91 148.54 L809.98 148.62 L809.06 148.7 L808.14 148.78 L807.21 148.87 L806.29 148.95 L805.38 149.04 L804.46 149.12 L803.54 149.21 L802.63 149.3 L801.72 149.39 L800.8 149.48 L799.9 149.57 L798.99 149.66 L798.08 149.76 L797.18 149.85 L796.27 149.95 L795.37 150.05 L794.47 150.14 L793.57 150.24 L792.67 150.34 L791.78 150.44 L790.89 150.55 L789.99 150.65 L789.1 150.75 L788.22 150.86 L787.33 150.96 L786.44 151.07 L785.56 151.18 L784.68 151.29 L783.8 151.4 L782.92 151.51 L782.05 151.62 L781.17 151.74 L780.3 151.85 L779.43 151.97 L778.57 152.08 L777.7 152.2 L776.84 152.32 L775.97 152.44 L775.11 152.56 L774.26 152.68 L773.4 152.8 L772.55 152.92 L771.69 153.05 L770.84 153.17 L770 153.3 L769.15 153.42 L768.31 153.55 L767.47 153.68 L766.63 153.81 L765.79 153.94 L764.95 154.07 L764.12 154.21 L763.29 154.34 L762.46 154.47 L761.64 154.61 L760.81 154.75 L759.99 154.88 L759.17 155.02 L758.36 155.16 L757.54 155.3 L756.73 155.44 L755.92 155.58 L755.11 155.73 L754.31 155.87 L753.51 156.02 L752.71 156.16 L751.91 156.31 L751.11 156.46 L750.32 156.6 L749.53 156.75 L748.74 156.9 L747.96 157.05 L747.17 157.21 L746.39 157.36 L745.62 157.51 L744.84 157.67 L744.07 157.82 L743.3 157.98 L742.53 158.14 L741.77 158.3 L741.01 158.45 L740.25 158.61 L739.49 158.78 L738.74 158.94 L737.99 159.1 L737.24 159.26 L736.49 159.43 L735.75 159.59 L735.01 159.76 L734.27 159.92 L733.54 160.09 L732.8 160.26 L732.08 160.43 L731.35 160.6 L730.63 160.77 L729.91 160.94 L729.19 161.12 L728.47 161.29 L727.76 161.46 L727.05 161.64 L726.35 161.81 L725.64 161.99 L724.94 162.17 L724.25 162.35 L723.55 162.53 L722.86 162.7 L722.17 162.89 L721.49 163.07 L720.81 163.25 L720.13 163.43 L719.45 163.62 L718.78 163.8 L718.11 163.99 L717.44 164.17 L716.78 164.36 L716.12 164.55 L715.46 164.73 L714.81 164.92 L714.16 165.11 L713.51 165.3 L712.86 165.49 L712.22 165.69 L711.58 165.88 L710.95 166.07 L710.32 166.27 L709.69 166.46 L709.06 166.66 L708.44 166.85 L707.82 167.05 L707.21 167.25 L706.6 167.45 L705.99 167.65 L705.38 167.84 L704.78 168.05 L704.18 168.25 L703.59 168.45 L702.99 168.65 L702.4 168.85 L701.82 169.06 L701.24 169.26 L700.66 169.47 L700.08 169.67 L699.51 169.88 L698.95 170.09 L698.38 170.29 L697.82 170.5 L697.26 170.71 L696.71 170.92 L696.16 171.13 L695.61 171.34 L695.07 171.55 L694.53 171.77 L693.99 171.98 L693.46 172.19 L692.93 172.41 L692.4 172.62 L691.88 172.84 L691.36 173.05 L690.85 173.27 L690.33 173.49 L689.83 173.7 L689.32 173.92 L688.82 174.14 L688.33 174.36 L687.83 174.58 L687.34 174.8 L686.86 175.02 L686.38 175.24 L685.9 175.46 L685.42 175.69 L684.95 175.91 L684.48 176.13 L684.02 176.36 L683.56 176.58 L683.11 176.81 L682.65 177.03 L682.2 177.26 L681.76 177.49 L681.32 177.71 L680.88 177.94 L680.45 178.17 L680.02 178.4 L679.59 178.63 L679.17 178.86 L678.75 179.09 L678.34 179.32 L677.93 179.55 L677.52 179.78 L677.12 180.01 L676.72 180.25 L676.33 180.48 L675.94 180.71 L675.55 180.95 L675.17 181.18 L674.79 181.42 L674.41 181.65 L674.04 181.89 L673.67 182.12 L673.31 182.36 L672.95 182.6 L672.6 182.83 L672.24 183.07 L671.9 183.31 L671.55 183.55 L671.21 183.79 L670.88 184.03 L670.55 184.27 L670.22 184.51 L669.9 184.75 L669.58 184.99 L669.26 185.23 L668.95 185.47 L668.64 185.71 L668.34 185.95 L668.04 186.2 L667.74 186.44 L667.45 186.68 L667.17 186.93 L666.88 187.17 L666.6 187.41 L666.33 187.66 L666.06 187.9 L665.79 188.15 L665.53 188.39 L665.27 188.64 L665.02 188.88 L664.77 189.13 L664.52 189.38 L664.28 189.62 L664.04 189.87 L663.81 190.12 L663.58 190.37 L663.35 190.61 L663.13 190.86 L662.91 191.11 L662.7 191.36 L662.49 191.61 L662.28 191.86 L662.08 192.11 L661.89 192.36 L661.69 192.61 L661.51 192.86 L661.32 193.11 L661.14 193.36 L660.97 193.61 L660.8 193.86 L660.63 194.11 L660.47 194.36 L660.31 194.61 L660.15 194.86 L660 195.12 L659.85 195.37 L659.71 195.62 L659.58 195.87 L659.44 196.12 L659.31 196.38 L659.19 196.63 L659.07 196.88 L658.95 197.14 L658.84 197.39 L658.73 197.64 L658.62 197.9 L658.52 198.15 L658.43 198.4 L658.34 198.66 L658.25 198.91 L658.17 199.16 L658.09 199.42 L658.01 199.67 L657.94 199.93 L657.88 200.18 L657.82 200.43 L657.76 200.69 L657.71 200.94 L657.66 201.2 L657.61 201.45 L657.57 201.71 L657.54 201.96 L657.5 202.22 L657.48 202.47 L657.45 202.73 L657.43 202.98 L657.42 203.24 L657.41 203.49 L657.4 203.75 L657.4 204 L657.4 204.25 L657.41 204.51 L657.42 204.76 L657.43 205.02 L657.45 205.27 L657.48 205.53 L657.5 205.78 L657.54 206.04 L657.57 206.29 L657.61 206.55 L657.66 206.8 L657.71 207.06 L657.76 207.31 L657.82 207.57 L657.88 207.82 L657.94 208.07 L658.01 208.33 L658.09 208.58 L658.17 208.84 L658.25 209.09 L658.34 209.34 L658.43 209.6 L658.52 209.85 L658.62 210.1 L658.73 210.36 L658.84 210.61 L658.95 210.86 L659.07 211.12 L659.19 211.37 L659.31 211.62 L659.44 211.88 L659.58 212.13 L659.71 212.38 L659.85 212.63 L660 212.88 L660.15 213.14 L660.31 213.39 L660.47 213.64 L660.63 213.89 L660.8 214.14 L660.97 214.39 L661.14 214.64 L661.32 214.89 L661.51 215.14 L661.69 215.39 L661.89 215.64 L662.08 215.89 L662.28 216.14 L662.49 216.39 L662.7 216.64 L662.91 216.89 L663.13 217.14 L663.35 217.39 L663.58 217.63 L663.81 217.88 L664.04 218.13 L664.28 218.38 L664.52 218.62 L664.77 218.87 L665.02 219.12 L665.27 219.36 L665.53 219.61 L665.79 219.85 L666.06 220.1 L666.33 220.34 L666.6 220.59 L666.88 220.83 L667.17 221.07 L667.45 221.32 L667.74 221.56 L668.04 221.8 L668.34 222.05 L668.64 222.29 L668.95 222.53 L669.26 222.77 L669.58 223.01 L669.9 223.25 L670.22 223.49 L670.55 223.73 L670.88 223.97 L671.21 224.21 L671.55 224.45 L671.9 224.69 L672.24 224.93 L672.6 225.17 L672.95 225.4 L673.31 225.64 L673.67 225.88 L674.04 226.11 L674.41 226.35 L674.79 226.58 L675.17 226.82 L675.55 227.05 L675.94 227.29 L676.33 227.52 L676.72 227.75 L677.12 227.99 L677.52 228.22 L677.93 228.45 L678.34 228.68 L678.75 228.91 L679.17 229.14 L679.59 229.37 L680.02 229.6 L680.45 229.83 L680.88 230.06 L681.32 230.29 L681.76 230.51 L682.2 230.74 L682.65 230.97 L683.11 231.19 L683.56 231.42 L684.02 231.64 L684.48 231.87 L684.95 232.09 L685.42 232.31 L685.9 232.54 L686.38 232.76 L686.86 232.98 L687.34 233.2 L687.83 233.42 L688.33 233.64 L688.82 233.86 L689.32 234.08 L689.83 234.3 L690.33 234.51 L690.85 234.73 L691.36 234.95 L691.88 235.16 L692.4 235.38 L692.93 235.59 L693.46 235.81 L693.99 236.02 L694.53 236.23 L695.07 236.45 L695.61 236.66 L696.16 236.87 L696.71 237.08 L697.26 237.29 L697.82 237.5 L698.38 237.71 L698.95 237.91 L699.51 238.12 L700.08 238.33 L700.66 238.53 L701.24 238.74 L701.82 238.94 L702.4 239.15 L702.99 239.35 L703.59 239.55 L704.18 239.75 L704.78 239.95 L705.38 240.16 L705.99 240.35 L706.6 240.55 L707.21 240.75 L707.82 240.95 L708.44 241.15 L709.06 241.34 L709.69 241.54 L710.32 241.73 L710.95 241.93 L711.58 242.12 L712.22 242.31 L712.86 242.51 L713.51 242.7 L714.16 242.89 L714.81 243.08 L715.46 243.27 L716.12 243.45 L716.78 243.64 L717.44 243.83 L718.11 244.01 L718.78 244.2 L719.45 244.38 L720.13 244.57 L720.81 244.75 L721.49 244.93 L722.17 245.11 L722.86 245.3 L723.55 245.47 L724.25 245.65 L724.94 245.83 L725.64 246.01 L726.35 246.19 L727.05 246.36 L727.76 246.54 L728.47 246.71 L729.19 246.88 L729.91 247.06 L730.63 247.23 L731.35 247.4 L732.08 247.57 L732.8 247.74 L733.54 247.91 L734.27 248.08 L735.01 248.24 L735.75 248.41 L736.49 248.57 L737.24 248.74 L737.99 248.9 L738.74 249.06 L739.49 249.22 L740.25 249.39 L741.01 249.55 L741.77 249.7 L742.53 249.86 L743.3 250.02 L744.07 250.18 L744.84 250.33 L745.62 250.49 L746.39 250.64 L747.17 250.79 L747.96 250.95 L748.74 251.1 L749.53 251.25 L750.32 251.4 L751.11 251.54 L751.91 251.69 L752.71 251.84 L753.51 251.98 L754.31 252.13 L755.11 252.27 L755.92 252.42 L756.73 252.56 L757.54 252.7 L758.36 252.84 L759.17 252.98 L759.99 253.12 L760.81 253.25 L761.64 253.39 L762.46 253.53 L763.29 253.66 L764.12 253.79 L764.95 253.93 L765.79 254.06 L766.63 254.19 L767.47 254.32 L768.31 254.45 L769.15 254.58 L770 254.7 L770.84 254.83 L771.69 254.95 L772.55 255.08 L773.4 255.2 L774.26 255.32 L775.11 255.44 L775.97 255.56 L776.84 255.68 L777.7 255.8 L778.57 255.92 L779.43 256.03 L780.3 256.15 L781.17 256.26 L782.05 256.38 L782.92 256.49 L783.8 256.6 L784.68 256.71 L785.56 256.82 L786.44 256.93 L787.33 257.04 L788.22 257.14 L789.1 257.25 L789.99 257.35 L790.89 257.45 L791.78 257.56 L792.67 257.66 L793.57 257.76 L794.47 257.86 L795.37 257.95 L796.27 258.05 L797.18 258.15 L798.08 258.24 L798.99 258.34 L799.9 258.43 L800.8 258.52 L801.72 258.61 L802.63 258.7 L803.54 258.79 L804.46 258.88 L805.38 258.96 L806.29 259.05 L807.21 259.13 L808.14 259.22 L809.06 259.3 L809.98 259.38 L810.91 259.46 L811.83 259.54 L812.76 259.62 L813.69 259.7 L814.62 259.77 L815.55 259.85 L816.49 259.92 L817.42 260 L818.36 260.07 L819.3 260.14 L820.23 260.21 L821.17 260.28 L822.11 260.34 L823.05 260.41 L824 260.48 L824.94 260.54 L825.88 260.6 L826.83 260.67 L827.78 260.73 L828.72 260.79 L829.67 260.85 L830.62 260.9 L831.57 260.96 L832.53 261.02 L833.48 261.07 L834.43 261.12 L835.39 261.18 L836.34 261.23 L837.3 261.28 L838.25 261.33 L839.21 261.38 L840.17 261.42 L841.13 261.47 L842.09 261.51 L843.05 261.56 L844.01 261.6 L844.97 261.64 L845.94 261.68 L846.9 261.72 L847.86 261.76 L848.83 261.8 L849.79 261.83 L850.76 261.87 L851.73 261.9 L852.69 261.93 L853.66 261.96 L854.63 262 L855.6 262.02 L856.57 262.05 L857.54 262.08 L858.51 262.11 L859.48 262.13 L860.45 262.16 L861.42 262.18 L862.39 262.2 L863.36 262.22 L864.34 262.24 L865.31 262.26 L866.28 262.27 L867.26 262.29 L868.23 262.31 L869.2 262.32 L870.18 262.33 L871.15 262.34 L872.13 262.35 L873.1 262.36 L874.07 262.37 L875.05 262.38 L876.02 262.39 L877 262.39 L877.97 262.39 L878.95 262.4 L879.92 262.4 L880.9 262.4 L881.88 262.4 L882.85 262.4 L883.83 262.39 L884.8 262.39 L885.78 262.39 L886.75 262.38 L887.73 262.37 L888.7 262.36 L889.67 262.35 L890.65 262.34 L891.62 262.33 L892.6 262.32 L893.57 262.31 L894.54 262.29 L895.52 262.27 L896.49 262.26 L897.46 262.24 L898.44 262.22 L899.41 262.2 L900.38 262.18 L901.35 262.16 L902.32 262.13 L903.29 262.11 L904.26 262.08 L905.23 262.05 L906.2 262.02 L907.17 262 L908.14 261.96 L909.11 261.93 L910.07 261.9 L911.04 261.87 L912.01 261.83 L912.97 261.8 L913.94 261.76 L914.9 261.72 L915.86 261.68 L916.83 261.64 L917.79 261.6 L918.75 261.56 L919.71 261.51 L920.67 261.47 L921.63 261.42 L922.59 261.38 L923.55 261.33 L924.5 261.28 L925.46 261.23 L926.41 261.18 L927.37 261.12 L928.32 261.07 L929.27 261.02 L930.23 260.96 L931.18 260.9 L932.13 260.85 L933.08 260.79 L934.02 260.73 L934.97 260.67 L935.92 260.6 L936.86 260.54 L937.8 260.48 L938.75 260.41 L939.69 260.34 L940.63 260.28 L941.57 260.21 L942.5 260.14 L943.44 260.07 L944.38 260 L945.31 259.92 L946.25 259.85 L947.18 259.77 L948.11 259.7 L949.04 259.62 L949.97 259.54 L950.89 259.46 L951.82 259.38 L952.74 259.3 L953.66 259.22 L954.59 259.13 L955.51 259.05 L956.42 258.96 L957.34 258.88 L958.26 258.79 L959.17 258.7 L960.08 258.61 L961 258.52 L961.9 258.43 L962.81 258.34 L963.72 258.24 L964.62 258.15 L965.53 258.05 L966.43 257.95 L967.33 257.86 L968.23 257.76 L969.13 257.66 L970.02 257.56 L970.91 257.45 L971.81 257.35 L972.7 257.25 L973.58 257.14 L974.47 257.04 L975.36 256.93 L976.24 256.82 L977.12 256.71 L978 256.6 L978.88 256.49 L979.75 256.38 L980.63 256.26 L981.5 256.15 L982.37 256.03 L983.23 255.92 L984.1 255.8 L984.96 255.68 L985.83 255.56 L986.69 255.44 L987.54 255.32 L988.4 255.2 L989.25 255.08 L990.11 254.95 L990.96 254.83 L991.8 254.7 L992.65 254.58 L993.49 254.45 L994.33 254.32 L995.17 254.19 L996.01 254.06 L996.85 253.93 L997.68 253.79 L998.51 253.66 L999.34 253.53 L1000.16 253.39 L1000.99 253.25 L1001.81 253.12 L1002.63 252.98 L1003.44 252.84 L1004.26 252.7 L1005.07 252.56 L1005.88 252.42 L1006.69 252.27 L1007.49 252.13 L1008.29 251.98 L1009.09 251.84 L1009.89 251.69 L1010.69 251.54 L1011.48 251.4 L1012.27 251.25 L1013.06 251.1 L1013.84 250.95 L1014.63 250.79 L1015.41 250.64 L1016.18 250.49 L1016.96 250.33 L1017.73 250.18 L1018.5 250.02 L1019.27 249.86 L1020.03 249.7 L1020.79 249.55 L1021.55 249.39 L1022.31 249.22 L1023.06 249.06 L1023.81 248.9 L1024.56 248.74 L1025.31 248.57 L1026.05 248.41 L1026.79 248.24 L1027.53 248.08 L1028.26 247.91 L1029 247.74 L1029.72 247.57 L1030.45 247.4 L1031.17 247.23 L1031.89 247.06 L1032.61 246.88 L1033.33 246.71 L1034.04 246.54 L1034.75 246.36 L1035.45 246.19 L1036.16 246.01 L1036.86 245.83 L1037.55 245.65 L1038.25 245.47 L1038.94 245.3 L1039.63 245.11 L1040.31 244.93 L1040.99 244.75 L1041.67 244.57 L1042.35 244.38 L1043.02 244.2 L1043.69 244.01 L1044.36 243.83 L1045.02 243.64 L1045.68 243.45 L1046.34 243.27 L1046.99 243.08 L1047.64 242.89 L1048.29 242.7 L1048.94 242.51 L1049.58 242.31 L1050.22 242.12 L1050.85 241.93 L1051.48 241.73 L1052.11 241.54 L1052.74 241.34 L1053.36 241.15 L1053.98 240.95 L1054.59 240.75 L1055.2 240.55 L1055.81 240.35 L1056.42 240.16 L1057.02 239.95 L1057.62 239.75 L1058.21 239.55 L1058.81 239.35 L1059.4 239.15 L1059.98 238.94 L1060.56 238.74 L1061.14 238.53 L1061.72 238.33 L1062.29 238.12 L1062.85 237.91 L1063.42 237.71 L1063.98 237.5 L1064.54 237.29 L1065.09 237.08 L1065.64 236.87 L1066.19 236.66 L1066.73 236.45 L1067.27 236.23 L1067.81 236.02 L1068.34 235.81 L1068.87 235.59 L1069.4 235.38 L1069.92 235.16 L1070.44 234.95 L1070.95 234.73 L1071.47 234.51 L1071.97 234.3 L1072.48 234.08 L1072.98 233.86 L1073.47 233.64 L1073.97 233.42 L1074.46 233.2 L1074.94 232.98 L1075.42 232.76 L1075.9 232.54 L1076.38 232.31 L1076.85 232.09 L1077.32 231.87 L1077.78 231.64 L1078.24 231.42 L1078.69 231.19 L1079.15 230.97 L1079.6 230.74 L1080.04 230.51 L1080.48 230.29 L1080.92 230.06 L1081.35 229.83 L1081.78 229.6 L1082.21 229.37 L1082.63 229.14 L1083.05 228.91 L1083.46 228.68 L1083.87 228.45 L1084.28 228.22 L1084.68 227.99 L1085.08 227.75 L1085.47 227.52 L1085.86 227.29 L1086.25 227.05 L1086.63 226.82 L1087.01 226.58 L1087.39 226.35 L1087.76 226.11 L1088.13 225.88 L1088.49 225.64 L1088.85 225.4 L1089.2 225.17 L1089.56 224.93 L1089.9 224.69 L1090.25 224.45 L1090.59 224.21 L1090.92 223.97 L1091.25 223.73 L1091.58 223.49 L1091.9 223.25 L1092.22 223.01 L1092.54 222.77 L1092.85 222.53 L1093.16 222.29 L1093.46 222.05 L1093.76 221.8 L1094.06 221.56 L1094.35 221.32 L1094.63 221.07 L1094.92 220.83 L1095.2 220.59 L1095.47 220.34 L1095.74 220.1 L1096.01 219.85 L1096.27 219.61 L1096.53 219.36 L1096.78 219.12 L1097.03 218.87 L1097.28 218.62 L1097.52 218.38 L1097.76 218.13 L1097.99 217.88 L1098.22 217.63 L1098.45 217.39 L1098.67 217.14 L1098.89 216.89 L1099.1 216.64 L1099.31 216.39 L1099.52 216.14 L1099.72 215.89 L1099.91 215.64 L1100.11 215.39 L1100.29 215.14 L1100.48 214.89 L1100.66 214.64 L1100.83 214.39 L1101 214.14 L1101.17 213.89 L1101.33 213.64 L1101.49 213.39 L1101.65 213.14 L1101.8 212.88 L1101.95 212.63 L1102.09 212.38 L1102.22 212.13 L1102.36 211.88 L1102.49 211.62 L1102.61 211.37 L1102.73 211.12 L1102.85 210.86 L1102.96 210.61 L1103.07 210.36 L1103.18 210.1 L1103.28 209.85 L1103.37 209.6 L1103.46 209.34 L1103.55 209.09 L1103.63 208.84 L1103.71 208.58 L1103.79 208.33 L1103.86 208.07 L1103.92 207.82 L1103.98 207.57 L1104.04 207.31 L1104.09 207.06 L1104.14 206.8 L1104.19 206.55 L1104.23 206.29 L1104.26 206.04 L1104.3 205.78 L1104.32 205.53 L1104.35 205.27 L1104.37 205.02 L1104.38 204.76 L1104.39 204.51 L1104.4 204.25Z M1101.9 204 L1101.9 203.93 L1101.89 203.84 L1101.88 203.74 L1101.87 203.63 L1101.85 203.52 L1101.82 203.4 L1101.8 203.28 L1101.77 203.16 L1101.73 203.03 L1101.69 202.9 L1101.65 202.77 L1101.6 202.63 L1101.54 202.5 L1101.49 202.36 L1101.43 202.21 L1101.36 202.07 L1101.29 201.93 L1101.22 201.78 L1101.14 201.63 L1101.06 201.48 L1100.97 201.33 L1100.88 201.18 L1100.79 201.02 L1100.69 200.87 L1100.59 200.71 L1100.48 200.55 L1100.37 200.39 L1100.25 200.23 L1100.13 200.07 L1100.01 199.91 L1099.88 199.75 L1099.75 199.58 L1099.61 199.42 L1099.47 199.25 L1099.33 199.08 L1099.18 198.92 L1099.03 198.75 L1098.87 198.58 L1098.71 198.41 L1098.54 198.24 L1098.37 198.07 L1098.2 197.89 L1098.02 197.72 L1097.84 197.55 L1097.65 197.37 L1097.46 197.2 L1097.27 197.02 L1097.07 196.85 L1096.87 196.67 L1096.66 196.49 L1096.45 196.32 L1096.24 196.14 L1096.02 195.96 L1095.79 195.78 L1095.57 195.6 L1095.34 195.42 L1095.1 195.24 L1094.86 195.06 L1094.62 194.88 L1094.37 194.7 L1094.12 194.52 L1093.86 194.33 L1093.6 194.15 L1093.34 193.97 L1093.07 193.78 L1092.8 193.6 L1092.52 193.42 L1092.24 193.23 L1091.96 193.05 L1091.67 192.86 L1091.38 192.68 L1091.08 192.49 L1090.78 192.31 L1090.48 192.12 L1090.17 191.93 L1089.86 191.75 L1089.54 191.56 L1089.22 191.38 L1088.9 191.19 L1088.57 191 L1088.24 190.81 L1087.9 190.63 L1087.56 190.44 L1087.22 190.25 L1086.87 190.07 L1086.52 189.88 L1086.17 189.69 L1085.81 189.5 L1085.44 189.31 L1085.08 189.13 L1084.71 188.94 L1084.33 188.75 L1083.95 188.56 L1083.57 188.37 L1083.18 188.19 L1082.79 188 L1082.4 187.81 L1082 187.62 L1081.6 187.43 L1081.19 187.24 L1080.78 187.06 L1080.37 186.87 L1079.95 186.68 L1079.53 186.49 L1079.11 186.3 L1078.68 186.12 L1078.25 185.93 L1077.81 185.74 L1077.37 185.55 L1076.93 185.37 L1076.48 185.18 L1076.03 184.99 L1075.58 184.8 L1075.12 184.62 L1074.66 184.43 L1074.19 184.24 L1073.72 184.06 L1073.25 183.87 L1072.77 183.68 L1072.29 183.5 L1071.81 183.31 L1071.32 183.13 L1070.83 182.94 L1070.33 182.76 L1069.84 182.57 L1069.33 182.39 L1068.83 182.2 L1068.32 182.02 L1067.81 181.83 L1067.29 181.65 L1066.77 181.47 L1066.25 181.28 L1065.72 181.1 L1065.19 180.92 L1064.65 180.73 L1064.12 180.55 L1063.58 180.37 L1063.03 180.19 L1062.48 180.01 L1061.93 179.83 L1061.38 179.65 L1060.82 179.47 L1060.26 179.29 L1059.69 179.11 L1059.12 178.93 L1058.55 178.75 L1057.98 178.57 L1057.4 178.39 L1056.82 178.21 L1056.23 178.04 L1055.64 177.86 L1055.05 177.68 L1054.46 177.51 L1053.86 177.33 L1053.25 177.16 L1052.65 176.98 L1052.04 176.81 L1051.43 176.63 L1050.81 176.46 L1050.2 176.29 L1049.57 176.11 L1048.95 175.94 L1048.32 175.77 L1047.69 175.6 L1047.06 175.43 L1046.42 175.26 L1045.78 175.09 L1045.14 174.92 L1044.49 174.75 L1043.84 174.58 L1043.19 174.41 L1042.53 174.24 L1041.87 174.08 L1041.21 173.91 L1040.54 173.75 L1039.87 173.58 L1039.2 173.42 L1038.53 173.25 L1037.85 173.09 L1037.17 172.93 L1036.49 172.76 L1035.8 172.6 L1035.11 172.44 L1034.42 172.28 L1033.72 172.12 L1033.03 171.96 L1032.33 171.8 L1031.62 171.64 L1030.91 171.48 L1030.21 171.33 L1029.49 171.17 L1028.78 171.02 L1028.06 170.86 L1027.34 170.71 L1026.62 170.55 L1025.89 170.4 L1025.16 170.25 L1024.43 170.09 L1023.69 169.94 L1022.96 169.79 L1022.22 169.64 L1021.47 169.49 L1020.73 169.34 L1019.98 169.2 L1019.23 169.05 L1018.48 168.9 L1017.72 168.76 L1016.96 168.61 L1016.2 168.47 L1015.44 168.32 L1014.67 168.18 L1013.9 168.04 L1013.13 167.9 L1012.36 167.76 L1011.58 167.62 L1010.8 167.48 L1010.02 167.34 L1009.24 167.2 L1008.45 167.06 L1007.66 166.93 L1006.87 166.79 L1006.08 166.66 L1005.28 166.52 L1004.48 166.39 L1003.68 166.26 L1002.88 166.13 L1002.07 165.99 L1001.27 165.86 L1000.46 165.74 L999.64 165.61 L998.83 165.48 L998.01 165.35 L997.19 165.23 L996.37 165.1 L995.55 164.98 L994.72 164.85 L993.9 164.73 L993.07 164.61 L992.23 164.49 L991.4 164.37 L990.56 164.25 L989.73 164.13 L988.89 164.01 L988.04 163.89 L987.2 163.78 L986.35 163.66 L985.5 163.55 L984.65 163.44 L983.8 163.32 L982.95 163.21 L982.09 163.1 L981.23 162.99 L980.37 162.88 L979.51 162.77 L978.65 162.67 L977.78 162.56 L976.91 162.46 L976.04 162.35 L975.17 162.25 L974.3 162.14 L973.42 162.04 L972.55 161.94 L971.67 161.84 L970.79 161.74 L969.91 161.65 L969.02 161.55 L968.14 161.45 L967.25 161.36 L966.36 161.26 L965.47 161.17 L964.58 161.08 L963.69 160.98 L962.79 160.89 L961.9 160.8 L961 160.72 L960.1 160.63 L959.2 160.54 L958.3 160.46 L957.39 160.37 L956.49 160.29 L955.58 160.2 L954.67 160.12 L953.76 160.04 L952.85 159.96 L951.94 159.88 L951.02 159.81 L950.11 159.73 L949.19 159.65 L948.28 159.58 L947.36 159.5 L946.44 159.43 L945.51 159.36 L944.59 159.29 L943.67 159.22 L942.74 159.15 L941.82 159.08 L940.89 159.01 L939.96 158.95 L939.03 158.88 L938.1 158.82 L937.17 158.76 L936.23 158.69 L935.3 158.63 L934.36 158.57 L933.43 158.52 L932.49 158.46 L931.55 158.4 L930.61 158.34 L929.67 158.29 L928.73 158.24 L927.79 158.18 L926.85 158.13 L925.9 158.08 L924.96 158.03 L924.01 157.98 L923.07 157.94 L922.12 157.89 L921.17 157.84 L920.23 157.8 L919.28 157.76 L918.33 157.72 L917.38 157.67 L916.42 157.63 L915.47 157.59 L914.52 157.56 L913.57 157.52 L912.61 157.48 L911.66 157.45 L910.7 157.42 L909.75 157.38 L908.79 157.35 L907.83 157.32 L906.88 157.29 L905.92 157.26 L904.96 157.24 L904 157.21 L903.04 157.18 L902.08 157.16 L901.12 157.14 L900.16 157.11 L899.2 157.09 L898.24 157.07 L897.28 157.06 L896.32 157.04 L895.35 157.02 L894.39 157.01 L893.43 156.99 L892.47 156.98 L891.5 156.97 L890.54 156.95 L889.58 156.94 L888.61 156.93 L887.65 156.93 L886.69 156.92 L885.72 156.91 L884.76 156.91 L883.79 156.9 L882.83 156.9 L881.86 156.9 L880.9 156.9 L879.94 156.9 L878.97 156.9 L878.01 156.9 L877.04 156.91 L876.08 156.91 L875.11 156.92 L874.15 156.93 L873.19 156.93 L872.22 156.94 L871.26 156.95 L870.3 156.97 L869.33 156.98 L868.37 156.99 L867.41 157.01 L866.45 157.02 L865.48 157.04 L864.52 157.06 L863.56 157.07 L862.6 157.09 L861.64 157.11 L860.68 157.14 L859.72 157.16 L858.76 157.18 L857.8 157.21 L856.84 157.24 L855.88 157.26 L854.92 157.29 L853.97 157.32 L853.01 157.35 L852.05 157.38 L851.1 157.42 L850.14 157.45 L849.19 157.48 L848.23 157.52 L847.28 157.56 L846.33 157.59 L845.38 157.63 L844.42 157.67 L843.47 157.72 L842.52 157.76 L841.57 157.8 L840.63 157.84 L839.68 157.89 L838.73 157.94 L837.79 157.98 L836.84 158.03 L835.9 158.08 L834.95 158.13 L834.01 158.18 L833.07 158.24 L832.13 158.29 L831.19 158.34 L830.25 158.4 L829.31 158.46 L828.37 158.52 L827.44 158.57 L826.5 158.63 L825.57 158.69 L824.63 158.76 L823.7 158.82 L822.77 158.88 L821.84 158.95 L820.91 159.01 L819.98 159.08 L819.06 159.15 L818.13 159.22 L817.21 159.29 L816.29 159.36 L815.36 159.43 L814.44 159.5 L813.52 159.58 L812.61 159.65 L811.69 159.73 L810.78 159.81 L809.86 159.88 L808.95 159.96 L808.04 160.04 L807.13 160.12 L806.22 160.2 L805.31 160.29 L804.41 160.37 L803.5 160.46 L802.6 160.54 L801.7 160.63 L800.8 160.72 L799.9 160.8 L799.01 160.89 L798.11 160.98 L797.22 161.08 L796.33 161.17 L795.44 161.26 L794.55 161.36 L793.66 161.45 L792.78 161.55 L791.89 161.65 L791.01 161.74 L790.13 161.84 L789.25 161.94 L788.38 162.04 L787.5 162.14 L786.63 162.25 L785.76 162.35 L784.89 162.46 L784.02 162.56 L783.15 162.67 L782.29 162.77 L781.43 162.88 L780.57 162.99 L779.71 163.1 L778.85 163.21 L778 163.32 L777.15 163.44 L776.3 163.55 L775.45 163.66 L774.6 163.78 L773.76 163.89 L772.91 164.01 L772.07 164.13 L771.24 164.25 L770.4 164.37 L769.57 164.49 L768.73 164.61 L767.9 164.73 L767.08 164.85 L766.25 164.98 L765.43 165.1 L764.61 165.23 L763.79 165.35 L762.97 165.48 L762.16 165.61 L761.34 165.74 L760.53 165.86 L759.73 165.99 L758.92 166.13 L758.12 166.26 L757.32 166.39 L756.52 166.52 L755.72 166.66 L754.93 166.79 L754.14 166.93 L753.35 167.06 L752.56 167.2 L751.78 167.34 L751 167.48 L750.22 167.62 L749.44 167.76 L748.67 167.9 L747.9 168.04 L747.13 168.18 L746.36 168.32 L745.6 168.47 L744.84 168.61 L744.08 168.76 L743.32 168.9 L742.57 169.05 L741.82 169.2 L741.07 169.34 L740.33 169.49 L739.58 169.64 L738.84 169.79 L738.11 169.94 L737.37 170.09 L736.64 170.25 L735.91 170.4 L735.18 170.55 L734.46 170.71 L733.74 170.86 L733.02 171.02 L732.31 171.17 L731.59 171.33 L730.89 171.48 L730.18 171.64 L729.47 171.8 L728.77 171.96 L728.08 172.12 L727.38 172.28 L726.69 172.44 L726 172.6 L725.31 172.76 L724.63 172.93 L723.95 173.09 L723.27 173.25 L722.6 173.42 L721.93 173.58 L721.26 173.75 L720.59 173.91 L719.93 174.08 L719.27 174.24 L718.61 174.41 L717.96 174.58 L717.31 174.75 L716.66 174.92 L716.02 175.09 L715.38 175.26 L714.74 175.43 L714.11 175.6 L713.48 175.77 L712.85 175.94 L712.23 176.11 L711.6 176.29 L710.99 176.46 L710.37 176.63 L709.76 176.81 L709.15 176.98 L708.55 177.16 L707.94 177.33 L707.34 177.51 L706.75 177.68 L706.16 177.86 L705.57 178.04 L704.98 178.21 L704.4 178.39 L703.82 178.57 L703.25 178.75 L702.68 178.93 L702.11 179.11 L701.54 179.29 L700.98 179.47 L700.42 179.65 L699.87 179.83 L699.32 180.01 L698.77 180.19 L698.22 180.37 L697.68 180.55 L697.15 180.73 L696.61 180.92 L696.08 181.1 L695.55 181.28 L695.03 181.47 L694.51 181.65 L693.99 181.83 L693.48 182.02 L692.97 182.2 L692.47 182.39 L691.96 182.57 L691.47 182.76 L690.97 182.94 L690.48 183.13 L689.99 183.31 L689.51 183.5 L689.03 183.68 L688.55 183.87 L688.08 184.06 L687.61 184.24 L687.14 184.43 L686.68 184.62 L686.22 184.8 L685.77 184.99 L685.32 185.18 L684.87 185.37 L684.43 185.55 L683.99 185.74 L683.55 185.93 L683.12 186.12 L682.69 186.3 L682.27 186.49 L681.85 186.68 L681.43 186.87 L681.02 187.06 L680.61 187.24 L680.2 187.43 L679.8 187.62 L679.4 187.81 L679.01 188 L678.62 188.19 L678.23 188.37 L677.85 188.56 L677.47 188.75 L677.09 188.94 L676.72 189.13 L676.36 189.31 L675.99 189.5 L675.63 189.69 L675.28 189.88 L674.93 190.07 L674.58 190.25 L674.24 190.44 L673.9 190.63 L673.56 190.81 L673.23 191 L672.9 191.19 L672.58 191.38 L672.26 191.56 L671.94 191.75 L671.63 191.93 L671.32 192.12 L671.02 192.31 L670.72 192.49 L670.42 192.68 L670.13 192.86 L669.84 193.05 L669.56 193.23 L669.28 193.42 L669 193.6 L668.73 193.78 L668.46 193.97 L668.2 194.15 L667.94 194.33 L667.68 194.52 L667.43 194.7 L667.18 194.88 L666.94 195.06 L666.7 195.24 L666.46 195.42 L666.23 195.6 L666.01 195.78 L665.78 195.96 L665.56 196.14 L665.35 196.32 L665.14 196.49 L664.93 196.67 L664.73 196.85 L664.53 197.02 L664.34 197.2 L664.15 197.37 L663.96 197.55 L663.78 197.72 L663.6 197.89 L663.43 198.07 L663.26 198.24 L663.09 198.41 L662.93 198.58 L662.77 198.75 L662.62 198.92 L662.47 199.08 L662.33 199.25 L662.19 199.42 L662.05 199.58 L661.92 199.75 L661.79 199.91 L661.67 200.07 L661.55 200.23 L661.43 200.39 L661.32 200.55 L661.21 200.71 L661.11 200.87 L661.01 201.02 L660.92 201.18 L660.83 201.33 L660.74 201.48 L660.66 201.63 L660.58 201.78 L660.51 201.93 L660.44 202.07 L660.37 202.21 L660.31 202.36 L660.26 202.5 L660.2 202.63 L660.15 202.77 L660.11 202.9 L660.07 203.03 L660.03 203.16 L660 203.28 L659.98 203.4 L659.95 203.52 L659.93 203.63 L659.92 203.74 L659.91 203.84 L659.9 203.93 L659.9 204 L659.9 204.07 L659.91 204.16 L659.92 204.26 L659.93 204.37 L659.95 204.48 L659.98 204.6 L660 204.72 L660.03 204.84 L660.07 204.97 L660.11 205.1 L660.15 205.23 L660.2 205.37 L660.26 205.5 L660.31 205.64 L660.37 205.79 L660.44 205.93 L660.51 206.07 L660.58 206.22 L660.66 206.37 L660.74 206.52 L660.83 206.67 L660.92 206.82 L661.01 206.98 L661.11 207.13 L661.21 207.29 L661.32 207.45 L661.43 207.61 L661.55 207.77 L661.67 207.93 L661.79 208.09 L661.92 208.25 L662.05 208.42 L662.19 208.58 L662.33 208.75 L662.47 208.92 L662.62 209.08 L662.77 209.25 L662.93 209.42 L663.09 209.59 L663.26 209.76 L663.43 209.93 L663.6 210.11 L663.78 210.28 L663.96 210.45 L664.15 210.63 L664.34 210.8 L664.53 210.98 L664.73 211.15 L664.93 211.33 L665.14 211.51 L665.35 211.68 L665.56 211.86 L665.78 212.04 L666.01 212.22 L666.23 212.4 L666.46 212.58 L666.7 212.76 L666.94 212.94 L667.18 213.12 L667.43 213.3 L667.68 213.48 L667.94 213.67 L668.2 213.85 L668.46 214.03 L668.73 214.22 L669 214.4 L669.28 214.58 L669.56 214.77 L669.84 214.95 L670.13 215.14 L670.42 215.32 L670.72 215.51 L671.02 215.69 L671.32 215.88 L671.63 216.07 L671.94 216.25 L672.26 216.44 L672.58 216.62 L672.9 216.81 L673.23 217 L673.56 217.19 L673.9 217.37 L674.24 217.56 L674.58 217.75 L674.93 217.93 L675.28 218.12 L675.63 218.31 L675.99 218.5 L676.36 218.69 L676.72 218.87 L677.09 219.06 L677.47 219.25 L677.85 219.44 L678.23 219.63 L678.62 219.81 L679.01 220 L679.4 220.19 L679.8 220.38 L680.2 220.57 L680.61 220.76 L681.02 220.94 L681.43 221.13 L681.85 221.32 L682.27 221.51 L682.69 221.7 L683.12 221.88 L683.55 222.07 L683.99 222.26 L684.43 222.45 L684.87 222.63 L685.32 222.82 L685.77 223.01 L686.22 223.2 L686.68 223.38 L687.14 223.57 L687.61 223.76 L688.08 223.94 L688.55 224.13 L689.03 224.32 L689.51 224.5 L689.99 224.69 L690.48 224.87 L690.97 225.06 L691.47 225.24 L691.96 225.43 L692.47 225.61 L692.97 225.8 L693.48 225.98 L693.99 226.17 L694.51 226.35 L695.03 226.53 L695.55 226.72 L696.08 226.9 L696.61 227.08 L697.15 227.27 L697.68 227.45 L698.22 227.63 L698.77 227.81 L699.32 227.99 L699.87 228.17 L700.42 228.35 L700.98 228.53 L701.54 228.71 L702.11 228.89 L702.68 229.07 L703.25 229.25 L703.82 229.43 L704.4 229.61 L704.98 229.79 L705.57 229.96 L706.16 230.14 L706.75 230.32 L707.34 230.49 L707.94 230.67 L708.55 230.84 L709.15 231.02 L709.76 231.19 L710.37 231.37 L710.99 231.54 L711.6 231.71 L712.23 231.89 L712.85 232.06 L713.48 232.23 L714.11 232.4 L714.74 232.57 L715.38 232.74 L716.02 232.91 L716.66 233.08 L717.31 233.25 L717.96 233.42 L718.61 233.59 L719.27 233.76 L719.93 233.92 L720.59 234.09 L721.26 234.25 L721.93 234.42 L722.6 234.58 L723.27 234.75 L723.95 234.91 L724.63 235.07 L725.31 235.24 L726 235.4 L726.69 235.56 L727.38 235.72 L728.08 235.88 L728.77 236.04 L729.47 236.2 L730.18 236.36 L730.89 236.52 L731.59 236.67 L732.31 236.83 L733.02 236.98 L733.74 237.14 L734.46 237.29 L735.18 237.45 L735.91 237.6 L736.64 237.75 L737.37 237.91 L738.11 238.06 L738.84 238.21 L739.58 238.36 L740.33 238.51 L741.07 238.66 L741.82 238.8 L742.57 238.95 L743.32 239.1 L744.08 239.24 L744.84 239.39 L745.6 239.53 L746.36 239.68 L747.13 239.82 L747.9 239.96 L748.67 240.1 L749.44 240.24 L750.22 240.38 L751 240.52 L751.78 240.66 L752.56 240.8 L753.35 240.94 L754.14 241.07 L754.93 241.21 L755.72 241.34 L756.52 241.48 L757.32 241.61 L758.12 241.74 L758.92 241.87 L759.73 242.01 L760.53 242.14 L761.34 242.26 L762.16 242.39 L762.97 242.52 L763.79 242.65 L764.61 242.77 L765.43 242.9 L766.25 243.02 L767.08 243.15 L767.9 243.27 L768.73 243.39 L769.57 243.51 L770.4 243.63 L771.24 243.75 L772.07 243.87 L772.91 243.99 L773.76 244.11 L774.6 244.22 L775.45 244.34 L776.3 244.45 L777.15 244.56 L778 244.68 L778.85 244.79 L779.71 244.9 L780.57 245.01 L781.43 245.12 L782.29 245.23 L783.15 245.33 L784.02 245.44 L784.89 245.54 L785.76 245.65 L786.63 245.75 L787.5 245.86 L788.38 245.96 L789.25 246.06 L790.13 246.16 L791.01 246.26 L791.89 246.35 L792.78 246.45 L793.66 246.55 L794.55 246.64 L795.44 246.74 L796.33 246.83 L797.22 246.92 L798.11 247.02 L799.01 247.11 L799.9 247.2 L800.8 247.28 L801.7 247.37 L802.6 247.46 L803.5 247.54 L804.41 247.63 L805.31 247.71 L806.22 247.8 L807.13 247.88 L808.04 247.96 L808.95 248.04 L809.86 248.12 L810.78 248.19 L811.69 248.27 L812.61 248.35 L813.52 248.42 L814.44 248.5 L815.36 248.57 L816.29 248.64 L817.21 248.71 L818.13 248.78 L819.06 248.85 L819.98 248.92 L820.91 248.99 L821.84 249.05 L822.77 249.12 L823.7 249.18 L824.63 249.24 L825.57 249.31 L826.5 249.37 L827.44 249.43 L828.37 249.48 L829.31 249.54 L830.25 249.6 L831.19 249.66 L832.13 249.71 L833.07 249.76 L834.01 249.82 L834.95 249.87 L835.9 249.92 L836.84 249.97 L837.79 250.02 L838.73 250.06 L839.68 250.11 L840.63 250.16 L841.57 250.2 L842.52 250.24 L843.47 250.28 L844.42 250.33 L845.38 250.37 L846.33 250.41 L847.28 250.44 L848.23 250.48 L849.19 250.52 L850.14 250.55 L851.1 250.58 L852.05 250.62 L853.01 250.65 L853.97 250.68 L854.92 250.71 L855.88 250.74 L856.84 250.76 L857.8 250.79 L858.76 250.82 L859.72 250.84 L860.68 250.86 L861.64 250.89 L862.6 250.91 L863.56 250.93 L864.52 250.94 L865.48 250.96 L866.45 250.98 L867.41 250.99 L868.37 251.01 L869.33 251.02 L870.3 251.03 L871.26 251.05 L872.22 251.06 L873.19 251.07 L874.15 251.07 L875.11 251.08 L876.08 251.09 L877.04 251.09 L878.01 251.1 L878.97 251.1 L879.94 251.1 L880.9 251.1 L881.86 251.1 L882.83 251.1 L883.79 251.1 L884.76 251.09 L885.72 251.09 L886.69 251.08 L887.65 251.07 L888.61 251.07 L889.58 251.06 L890.54 251.05 L891.5 251.03 L892.47 251.02 L893.43 251.01 L894.39 250.99 L895.35 250.98 L896.32 250.96 L897.28 250.94 L898.24 250.93 L899.2 250.91 L900.16 250.89 L901.12 250.86 L902.08 250.84 L903.04 250.82 L904 250.79 L904.96 250.76 L905.92 250.74 L906.88 250.71 L907.83 250.68 L908.79 250.65 L909.75 250.62 L910.7 250.58 L911.66 250.55 L912.61 250.52 L913.57 250.48 L914.52 250.44 L915.47 250.41 L916.42 250.37 L917.38 250.33 L918.33 250.28 L919.28 250.24 L920.23 250.2 L921.17 250.16 L922.12 250.11 L923.07 250.06 L924.01 250.02 L924.96 249.97 L925.9 249.92 L926.85 249.87 L927.79 249.82 L928.73 249.76 L929.67 249.71 L930.61 249.66 L931.55 249.6 L932.49 249.54 L933.43 249.48 L934.36 249.43 L935.3 249.37 L936.23 249.31 L937.17 249.24 L938.1 249.18 L939.03 249.12 L939.96 249.05 L940.89 248.99 L941.82 248.92 L942.74 248.85 L943.67 248.78 L944.59 248.71 L945.51 248.64 L946.44 248.57 L947.36 248.5 L948.28 248.42 L949.19 248.35 L950.11 248.27 L951.02 248.19 L951.94 248.12 L952.85 248.04 L953.76 247.96 L954.67 247.88 L955.58 247.8 L956.49 247.71 L957.39 247.63 L958.3 247.54 L959.2 247.46 L960.1 247.37 L961 247.28 L961.9 247.2 L962.79 247.11 L963.69 247.02 L964.58 246.92 L965.47 246.83 L966.36 246.74 L967.25 246.64 L968.14 246.55 L969.02 246.45 L969.91 246.35 L970.79 246.26 L971.67 246.16 L972.55 246.06 L973.42 245.96 L974.3 245.86 L975.17 245.75 L976.04 245.65 L976.91 245.54 L977.78 245.44 L978.65 245.33 L979.51 245.23 L980.37 245.12 L981.23 245.01 L982.09 244.9 L982.95 244.79 L983.8 244.68 L984.65 244.56 L985.5 244.45 L986.35 244.34 L987.2 244.22 L988.04 244.11 L988.89 243.99 L989.73 243.87 L990.56 243.75 L991.4 243.63 L992.23 243.51 L993.07 243.39 L993.9 243.27 L994.72 243.15 L995.55 243.02 L996.37 242.9 L997.19 242.77 L998.01 242.65 L998.83 242.52 L999.64 242.39 L1000.46 242.26 L1001.27 242.14 L1002.07 242.01 L1002.88 241.87 L1003.68 241.74 L1004.48 241.61 L1005.28 241.48 L1006.08 241.34 L1006.87 241.21 L1007.66 241.07 L1008.45 240.94 L1009.24 240.8 L1010.02 240.66 L1010.8 240.52 L1011.58 240.38 L1012.36 240.24 L1013.13 240.1 L1013.9 239.96 L1014.67 239.82 L1015.44 239.68 L1016.2 239.53 L1016.96 239.39 L1017.72 239.24 L1018.48 239.1 L1019.23 238.95 L1019.98 238.8 L1020.73 238.66 L1021.47 238.51 L1022.22 238.36 L1022.96 238.21 L1023.69 238.06 L1024.43 237.91 L1025.16 237.75 L1025.89 237.6 L1026.62 237.45 L1027.34 237.29 L1028.06 237.14 L1028.78 236.98 L1029.49 236.83 L1030.21 236.67 L1030.91 236.52 L1031.62 236.36 L1032.33 236.2 L1033.03 236.04 L1033.72 235.88 L1034.42 235.72 L1035.11 235.56 L1035.8 235.4 L1036.49 235.24 L1037.17 235.07 L1037.85 234.91 L1038.53 234.75 L1039.2 234.58 L1039.87 234.42 L1040.54 234.25 L1041.21 234.09 L1041.87 233.92 L1042.53 233.76 L1043.19 233.59 L1043.84 233.42 L1044.49 233.25 L1045.14 233.08 L1045.78 232.91 L1046.42 232.74 L1047.06 232.57 L1047.69 232.4 L1048.32 232.23 L1048.95 232.06 L1049.57 231.89 L1050.2 231.71 L1050.81 231.54 L1051.43 231.37 L1052.04 231.19 L1052.65 231.02 L1053.25 230.84 L1053.86 230.67 L1054.46 230.49 L1055.05 230.32 L1055.64 230.14 L1056.23 229.96 L1056.82 229.79 L1057.4 229.61 L1057.98 229.43 L1058.55 229.25 L1059.12 229.07 L1059.69 228.89 L1060.26 228.71 L1060.82 228.53 L1061.38 228.35 L1061.93 228.17 L1062.48 227.99 L1063.03 227.81 L1063.58 227.63 L1064.12 227.45 L1064.65 227.27 L1065.19 227.08 L1065.72 226.9 L1066.25 226.72 L1066.77 226.53 L1067.29 226.35 L1067.81 226.17 L1068.32 225.98 L1068.83 225.8 L1069.33 225.61 L1069.84 225.43 L1070.33 225.24 L1070.83 225.06 L1071.32 224.87 L1071.81 224.69 L1072.29 224.5 L1072.77 224.32 L1073.25 224.13 L1073.72 223.94 L1074.19 223.76 L1074.66 223.57 L1075.12 223.38 L1075.58 223.2 L1076.03 223.01 L1076.48 222.82 L1076.93 222.63 L1077.37 222.45 L1077.81 222.26 L1078.25 222.07 L1078.68 221.88 L1079.11 221.7 L1079.53 221.51 L1079.95 221.32 L1080.37 221.13 L1080.78 220.94 L1081.19 220.76 L1081.6 220.57 L1082 220.38 L1082.4 220.19 L1082.79 220 L1083.18 219.81 L1083.57 219.63 L1083.95 219.44 L1084.33 219.25 L1084.71 219.06 L1085.08 218.87 L1085.44 218.69 L1085.81 218.5 L1086.17 218.31 L1086.52 218.12 L1086.87 217.93 L1087.22 217.75 L1087.56 217.56 L1087.9 217.37 L1088.24 217.19 L1088.57 217 L1088.9 216.81 L1089.22 216.62 L1089.54 216.44 L1089.86 216.25 L1090.17 216.07 L1090.48 215.88 L1090.78 215.69 L1091.08 215.51 L1091.38 215.32 L1091.67 215.14 L1091.96 214.95 L1092.24 214.77 L1092.52 214.58 L1092.8 214.4 L1093.07 214.22 L1093.34 214.03 L1093.6 213.85 L1093.86 213.67 L1094.12 213.48 L1094.37 213.3 L1094.62 213.12 L1094.86 212.94 L1095.1 212.76 L1095.34 212.58 L1095.57 212.4 L1095.79 212.22 L1096.02 212.04 L1096.24 211.86 L1096.45 211.68 L1096.66 211.51 L1096.87 211.33 L1097.07 211.15 L1097.27 210.98 L1097.46 210.8 L1097.65 210.63 L1097.84 210.45 L1098.02 210.28 L1098.2 210.11 L1098.37 209.93 L1098.54 209.76 L1098.71 209.59 L1098.87 209.42 L1099.03 209.25 L1099.18 209.08 L1099.33 208.92 L1099.47 208.75 L1099.61 208.58 L1099.75 208.42 L1099.88 208.25 L1100.01 208.09 L1100.13 207.93 L1100.25 207.77 L1100.37 207.61 L1100.48 207.45 L1100.59 207.29 L1100.69 207.13 L1100.79 206.98 L1100.88 206.82 L1100.97 206.67 L1101.06 206.52 L1101.14 206.37 L1101.22 206.22 L1101.29 206.07 L1101.36 205.93 L1101.43 205.79 L1101.49 205.64 L1101.54 205.5 L1101.6 205.37 L1101.65 205.23 L1101.69 205.1 L1101.73 204.97 L1101.77 204.84 L1101.8 204.72 L1101.82 204.6 L1101.85 204.48 L1101.87 204.37 L1101.88 204.26 L1101.89 204.16 L1101.9 204.07Z" fill="none" stroke="#000" stroke-width="2.3"/>
<path d="M1071.3 204 L1071.3 203.96 L1071.28 203.9 L1071.26 203.83 L1071.23 203.75 L1071.2 203.66 L1071.15 203.56 L1071.1 203.46 L1071.04 203.36 L1070.97 203.25 L1070.89 203.13 L1070.81 203.02 L1070.71 202.89 L1070.61 202.77 L1070.5 202.64 L1070.38 202.51 L1070.26 202.38 L1070.12 202.24 L1069.98 202.1 L1069.83 201.96 L1069.67 201.81 L1069.5 201.66 L1069.33 201.52 L1069.15 201.36 L1068.96 201.21 L1068.76 201.06 L1068.55 200.9 L1068.33 200.74 L1068.11 200.58 L1067.88 200.42 L1067.64 200.25 L1067.39 200.08 L1067.14 199.92 L1066.88 199.75 L1066.61 199.58 L1066.33 199.4 L1066.04 199.23 L1065.74 199.06 L1065.44 198.88 L1065.13 198.7 L1064.81 198.52 L1064.49 198.34 L1064.15 198.16 L1063.81 197.98 L1063.46 197.8 L1063.1 197.61 L1062.74 197.43 L1062.36 197.24 L1061.98 197.06 L1061.59 196.87 L1061.2 196.68 L1060.79 196.49 L1060.38 196.3 L1059.96 196.11 L1059.53 195.92 L1059.1 195.72 L1058.65 195.53 L1058.2 195.34 L1057.75 195.14 L1057.28 194.95 L1056.81 194.75 L1056.33 194.56 L1055.84 194.36 L1055.34 194.16 L1054.84 193.96 L1054.33 193.77 L1053.81 193.57 L1053.29 193.37 L1052.75 193.17 L1052.21 192.97 L1051.66 192.77 L1051.11 192.57 L1050.55 192.37 L1049.98 192.17 L1049.4 191.97 L1048.82 191.77 L1048.23 191.57 L1047.63 191.37 L1047.02 191.17 L1046.41 190.97 L1045.79 190.77 L1045.16 190.57 L1044.53 190.36 L1043.89 190.16 L1043.24 189.96 L1042.59 189.76 L1041.93 189.56 L1041.26 189.36 L1040.58 189.16 L1039.9 188.96 L1039.21 188.76 L1038.52 188.56 L1037.81 188.36 L1037.1 188.16 L1036.39 187.96 L1035.67 187.76 L1034.94 187.56 L1034.2 187.37 L1033.46 187.17 L1032.71 186.97 L1031.95 186.77 L1031.19 186.58 L1030.42 186.38 L1029.65 186.18 L1028.87 185.99 L1028.08 185.79 L1027.29 185.6 L1026.49 185.41 L1025.68 185.21 L1024.87 185.02 L1024.05 184.83 L1023.23 184.64 L1022.39 184.45 L1021.56 184.26 L1020.72 184.07 L1019.87 183.88 L1019.01 183.69 L1018.15 183.5 L1017.28 183.32 L1016.41 183.13 L1015.53 182.95 L1014.65 182.76 L1013.76 182.58 L1012.86 182.39 L1011.96 182.21 L1011.06 182.03 L1010.14 181.85 L1009.23 181.67 L1008.3 181.49 L1007.37 181.32 L1006.44 181.14 L1005.5 180.97 L1004.55 180.79 L1003.6 180.62 L1002.65 180.45 L1001.69 180.27 L1000.72 180.1 L999.75 179.94 L998.78 179.77 L997.79 179.6 L996.81 179.43 L995.82 179.27 L994.82 179.11 L993.82 178.94 L992.81 178.78 L991.8 178.62 L990.79 178.46 L989.77 178.31 L988.74 178.15 L987.71 177.99 L986.68 177.84 L985.64 177.69 L984.6 177.54 L983.55 177.39 L982.5 177.24 L981.44 177.09 L980.38 176.94 L979.32 176.8 L978.25 176.66 L977.18 176.51 L976.1 176.37 L975.02 176.23 L973.93 176.1 L972.84 175.96 L971.75 175.82 L970.65 175.69 L969.55 175.56 L968.45 175.43 L967.34 175.3 L966.23 175.17 L965.11 175.05 L963.99 174.92 L962.87 174.8 L961.74 174.68 L960.61 174.56 L959.48 174.44 L958.34 174.32 L957.2 174.21 L956.06 174.09 L954.91 173.98 L953.76 173.87 L952.61 173.76 L951.45 173.66 L950.3 173.55 L949.13 173.45 L947.97 173.35 L946.8 173.25 L945.63 173.15 L944.46 173.05 L943.28 172.95 L942.1 172.86 L940.92 172.77 L939.74 172.68 L938.55 172.59 L937.36 172.5 L936.17 172.42 L934.98 172.34 L933.78 172.25 L932.58 172.17 L931.38 172.1 L930.18 172.02 L928.97 171.95 L927.77 171.87 L926.56 171.8 L925.35 171.73 L924.14 171.67 L922.92 171.6 L921.7 171.54 L920.49 171.48 L919.27 171.42 L918.05 171.36 L916.82 171.3 L915.6 171.25 L914.37 171.2 L913.14 171.15 L911.92 171.1 L910.69 171.05 L909.45 171.01 L908.22 170.96 L906.99 170.92 L905.75 170.88 L904.52 170.85 L903.28 170.81 L902.04 170.78 L900.8 170.75 L899.56 170.72 L898.32 170.69 L897.08 170.66 L895.84 170.64 L894.6 170.62 L893.35 170.6 L892.11 170.58 L890.86 170.56 L889.62 170.55 L888.38 170.53 L887.13 170.52 L885.88 170.52 L884.64 170.51 L883.39 170.5 L882.15 170.5 L880.9 170.5 L879.65 170.5 L878.41 170.5 L877.16 170.51 L875.92 170.52 L874.67 170.52 L873.42 170.53 L872.18 170.55 L870.94 170.56 L869.69 170.58 L868.45 170.6 L867.2 170.62 L865.96 170.64 L864.72 170.66 L863.48 170.69 L862.24 170.72 L861 170.75 L859.76 170.78 L858.52 170.81 L857.28 170.85 L856.05 170.88 L854.81 170.92 L853.58 170.96 L852.35 171.01 L851.11 171.05 L849.88 171.1 L848.66 171.15 L847.43 171.2 L846.2 171.25 L844.98 171.3 L843.75 171.36 L842.53 171.42 L841.31 171.48 L840.1 171.54 L838.88 171.6 L837.66 171.67 L836.45 171.73 L835.24 171.8 L834.03 171.87 L832.83 171.95 L831.62 172.02 L830.42 172.1 L829.22 172.17 L828.02 172.25 L826.82 172.34 L825.63 172.42 L824.44 172.5 L823.25 172.59 L822.06 172.68 L820.88 172.77 L819.7 172.86 L818.52 172.95 L817.34 173.05 L816.17 173.15 L815 173.25 L813.83 173.35 L812.67 173.45 L811.5 173.55 L810.35 173.66 L809.19 173.76 L808.04 173.87 L806.89 173.98 L805.74 174.09 L804.6 174.21 L803.46 174.32 L802.32 174.44 L801.19 174.56 L800.06 174.68 L798.93 174.8 L797.81 174.92 L796.69 175.05 L795.57 175.17 L794.46 175.3 L793.35 175.43 L792.25 175.56 L791.15 175.69 L790.05 175.82 L788.96 175.96 L787.87 176.1 L786.78 176.23 L785.7 176.37 L784.62 176.51 L783.55 176.66 L782.48 176.8 L781.42 176.94 L780.36 177.09 L779.3 177.24 L778.25 177.39 L777.2 177.54 L776.16 177.69 L775.12 177.84 L774.09 177.99 L773.06 178.15 L772.03 178.31 L771.01 178.46 L770 178.62 L768.99 178.78 L767.98 178.94 L766.98 179.11 L765.98 179.27 L764.99 179.43 L764.01 179.6 L763.02 179.77 L762.05 179.94 L761.08 180.1 L760.11 180.27 L759.15 180.45 L758.2 180.62 L757.25 180.79 L756.3 180.97 L755.36 181.14 L754.43 181.32 L753.5 181.49 L752.57 181.67 L751.66 181.85 L750.74 182.03 L749.84 182.21 L748.94 182.39 L748.04 182.58 L747.15 182.76 L746.27 182.95 L745.39 183.13 L744.52 183.32 L743.65 183.5 L742.79 183.69 L741.93 183.88 L741.08 184.07 L740.24 184.26 L739.41 184.45 L738.57 184.64 L737.75 184.83 L736.93 185.02 L736.12 185.21 L735.31 185.41 L734.51 185.6 L733.72 185.79 L732.93 185.99 L732.15 186.18 L731.38 186.38 L730.61 186.58 L729.85 186.77 L729.09 186.97 L728.34 187.17 L727.6 187.37 L726.86 187.56 L726.13 187.76 L725.41 187.96 L724.7 188.16 L723.99 188.36 L723.28 188.56 L722.59 188.76 L721.9 188.96 L721.22 189.16 L720.54 189.36 L719.87 189.56 L719.21 189.76 L718.56 189.96 L717.91 190.16 L717.27 190.36 L716.64 190.57 L716.01 190.77 L715.39 190.97 L714.78 191.17 L714.17 191.37 L713.57 191.57 L712.98 191.77 L712.4 191.97 L711.82 192.17 L711.25 192.37 L710.69 192.57 L710.14 192.77 L709.59 192.97 L709.05 193.17 L708.51 193.37 L707.99 193.57 L707.47 193.77 L706.96 193.96 L706.46 194.16 L705.96 194.36 L705.47 194.56 L704.99 194.75 L704.52 194.95 L704.05 195.14 L703.6 195.34 L703.15 195.53 L702.7 195.72 L702.27 195.92 L701.84 196.11 L701.42 196.3 L701.01 196.49 L700.6 196.68 L700.21 196.87 L699.82 197.06 L699.44 197.24 L699.06 197.43 L698.7 197.61 L698.34 197.8 L697.99 197.98 L697.65 198.16 L697.31 198.34 L696.99 198.52 L696.67 198.7 L696.36 198.88 L696.06 199.06 L695.76 199.23 L695.47 199.4 L695.19 199.58 L694.92 199.75 L694.66 199.92 L694.41 200.08 L694.16 200.25 L693.92 200.42 L693.69 200.58 L693.47 200.74 L693.25 200.9 L693.04 201.06 L692.84 201.21 L692.65 201.36 L692.47 201.52 L692.3 201.66 L692.13 201.81 L691.97 201.96 L691.82 202.1 L691.68 202.24 L691.54 202.38 L691.42 202.51 L691.3 202.64 L691.19 202.77 L691.09 202.89 L690.99 203.02 L690.91 203.13 L690.83 203.25 L690.76 203.36 L690.7 203.46 L690.65 203.56 L690.6 203.66 L690.57 203.75 L690.54 203.83 L690.52 203.9 L690.5 203.96 L690.5 204 L690.5 204.04 L690.52 204.1 L690.54 204.17 L690.57 204.25 L690.6 204.34 L690.65 204.44 L690.7 204.54 L690.76 204.64 L690.83 204.75 L690.91 204.87 L690.99 204.98 L691.09 205.11 L691.19 205.23 L691.3 205.36 L691.42 205.49 L691.54 205.62 L691.68 205.76 L691.82 205.9 L691.97 206.04 L692.13 206.19 L692.3 206.34 L692.47 206.48 L692.65 206.64 L692.84 206.79 L693.04 206.94 L693.25 207.1 L693.47 207.26 L693.69 207.42 L693.92 207.58 L694.16 207.75 L694.41 207.92 L694.66 208.08 L694.92 208.25 L695.19 208.42 L695.47 208.6 L695.76 208.77 L696.06 208.94 L696.36 209.12 L696.67 209.3 L696.99 209.48 L697.31 209.66 L697.65 209.84 L697.99 210.02 L698.34 210.2 L698.7 210.39 L699.06 210.57 L699.44 210.76 L699.82 210.94 L700.21 211.13 L700.6 211.32 L701.01 211.51 L701.42 211.7 L701.84 211.89 L702.27 212.08 L702.7 212.28 L703.15 212.47 L703.6 212.66 L704.05 212.86 L704.52 213.05 L704.99 213.25 L705.47 213.44 L705.96 213.64 L706.46 213.84 L706.96 214.04 L707.47 214.23 L707.99 214.43 L708.51 214.63 L709.05 214.83 L709.59 215.03 L710.14 215.23 L710.69 215.43 L711.25 215.63 L711.82 215.83 L712.4 216.03 L712.98 216.23 L713.57 216.43 L714.17 216.63 L714.78 216.83 L715.39 217.03 L716.01 217.23 L716.64 217.43 L717.27 217.64 L717.91 217.84 L718.56 218.04 L719.21 218.24 L719.87 218.44 L720.54 218.64 L721.22 218.84 L721.9 219.04 L722.59 219.24 L723.28 219.44 L723.99 219.64 L724.7 219.84 L725.41 220.04 L726.13 220.24 L726.86 220.44 L727.6 220.63 L728.34 220.83 L729.09 221.03 L729.85 221.23 L730.61 221.42 L731.38 221.62 L732.15 221.82 L732.93 222.01 L733.72 222.21 L734.51 222.4 L735.31 222.59 L736.12 222.79 L736.93 222.98 L737.75 223.17 L738.57 223.36 L739.41 223.55 L740.24 223.74 L741.08 223.93 L741.93 224.12 L742.79 224.31 L743.65 224.5 L744.52 224.68 L745.39 224.87 L746.27 225.05 L747.15 225.24 L748.04 225.42 L748.94 225.61 L749.84 225.79 L750.74 225.97 L751.66 226.15 L752.57 226.33 L753.5 226.51 L754.43 226.68 L755.36 226.86 L756.3 227.03 L757.25 227.21 L758.2 227.38 L759.15 227.55 L760.11 227.73 L761.08 227.9 L762.05 228.06 L763.02 228.23 L764.01 228.4 L764.99 228.57 L765.98 228.73 L766.98 228.89 L767.98 229.06 L768.99 229.22 L770 229.38 L771.01 229.54 L772.03 229.69 L773.06 229.85 L774.09 230.01 L775.12 230.16 L776.16 230.31 L777.2 230.46 L778.25 230.61 L779.3 230.76 L780.36 230.91 L781.42 231.06 L782.48 231.2 L783.55 231.34 L784.62 231.49 L785.7 231.63 L786.78 231.77 L787.87 231.9 L788.96 232.04 L790.05 232.18 L791.15 232.31 L792.25 232.44 L793.35 232.57 L794.46 232.7 L795.57 232.83 L796.69 232.95 L797.81 233.08 L798.93 233.2 L800.06 233.32 L801.19 233.44 L802.32 233.56 L803.46 233.68 L804.6 233.79 L805.74 233.91 L806.89 234.02 L808.04 234.13 L809.19 234.24 L810.35 234.34 L811.5 234.45 L812.67 234.55 L813.83 234.65 L815 234.75 L816.17 234.85 L817.34 234.95 L818.52 235.05 L819.7 235.14 L820.88 235.23 L822.06 235.32 L823.25 235.41 L824.44 235.5 L825.63 235.58 L826.82 235.66 L828.02 235.75 L829.22 235.83 L830.42 235.9 L831.62 235.98 L832.83 236.05 L834.03 236.13 L835.24 236.2 L836.45 236.27 L837.66 236.33 L838.88 236.4 L840.1 236.46 L841.31 236.52 L842.53 236.58 L843.75 236.64 L844.98 236.7 L846.2 236.75 L847.43 236.8 L848.66 236.85 L849.88 236.9 L851.11 236.95 L852.35 236.99 L853.58 237.04 L854.81 237.08 L856.05 237.12 L857.28 237.15 L858.52 237.19 L859.76 237.22 L861 237.25 L862.24 237.28 L863.48 237.31 L864.72 237.34 L865.96 237.36 L867.2 237.38 L868.45 237.4 L869.69 237.42 L870.94 237.44 L872.18 237.45 L873.42 237.47 L874.67 237.48 L875.92 237.48 L877.16 237.49 L878.41 237.5 L879.65 237.5 L880.9 237.5 L882.15 237.5 L883.39 237.5 L884.64 237.49 L885.88 237.48 L887.13 237.48 L888.38 237.47 L889.62 237.45 L890.86 237.44 L892.11 237.42 L893.35 237.4 L894.6 237.38 L895.84 237.36 L897.08 237.34 L898.32 237.31 L899.56 237.28 L900.8 237.25 L902.04 237.22 L903.28 237.19 L904.52 237.15 L905.75 237.12 L906.99 237.08 L908.22 237.04 L909.45 236.99 L910.69 236.95 L911.92 236.9 L913.14 236.85 L914.37 236.8 L915.6 236.75 L916.82 236.7 L918.05 236.64 L919.27 236.58 L920.49 236.52 L921.7 236.46 L922.92 236.4 L924.14 236.33 L925.35 236.27 L926.56 236.2 L927.77 236.13 L928.97 236.05 L930.18 235.98 L931.38 235.9 L932.58 235.83 L933.78 235.75 L934.98 235.66 L936.17 235.58 L937.36 235.5 L938.55 235.41 L939.74 235.32 L940.92 235.23 L942.1 235.14 L943.28 235.05 L944.46 234.95 L945.63 234.85 L946.8 234.75 L947.97 234.65 L949.13 234.55 L950.3 234.45 L951.45 234.34 L952.61 234.24 L953.76 234.13 L954.91 234.02 L956.06 233.91 L957.2 233.79 L958.34 233.68 L959.48 233.56 L960.61 233.44 L961.74 233.32 L962.87 233.2 L963.99 233.08 L965.11 232.95 L966.23 232.83 L967.34 232.7 L968.45 232.57 L969.55 232.44 L970.65 232.31 L971.75 232.18 L972.84 232.04 L973.93 231.9 L975.02 231.77 L976.1 231.63 L977.18 231.49 L978.25 231.34 L979.32 231.2 L980.38 231.06 L981.44 230.91 L982.5 230.76 L983.55 230.61 L984.6 230.46 L985.64 230.31 L986.68 230.16 L987.71 230.01 L988.74 229.85 L989.77 229.69 L990.79 229.54 L991.8 229.38 L992.81 229.22 L993.82 229.06 L994.82 228.89 L995.82 228.73 L996.81 228.57 L997.79 228.4 L998.78 228.23 L999.75 228.06 L1000.72 227.9 L1001.69 227.73 L1002.65 227.55 L1003.6 227.38 L1004.55 227.21 L1005.5 227.03 L1006.44 226.86 L1007.37 226.68 L1008.3 226.51 L1009.23 226.33 L1010.14 226.15 L1011.06 225.97 L1011.96 225.79 L1012.86 225.61 L1013.76 225.42 L1014.65 225.24 L1015.53 225.05 L1016.41 224.87 L1017.28 224.68 L1018.15 224.5 L1019.01 224.31 L1019.87 224.12 L1020.72 223.93 L1021.56 223.74 L1022.39 223.55 L1023.23 223.36 L1024.05 223.17 L1024.87 222.98 L1025.68 222.79 L1026.49 222.59 L1027.29 222.4 L1028.08 222.21 L1028.87 222.01 L1029.65 221.82 L1030.42 221.62 L1031.19 221.42 L1031.95 221.23 L1032.71 221.03 L1033.46 220.83 L1034.2 220.63 L1034.94 220.44 L1035.67 220.24 L1036.39 220.04 L1037.1 219.84 L1037.81 219.64 L1038.52 219.44 L1039.21 219.24 L1039.9 219.04 L1040.58 218.84 L1041.26 218.64 L1041.93 218.44 L1042.59 218.24 L1043.24 218.04 L1043.89 217.84 L1044.53 217.64 L1045.16 217.43 L1045.79 217.23 L1046.41 217.03 L1047.02 216.83 L1047.63 216.63 L1048.23 216.43 L1048.82 216.23 L1049.4 216.03 L1049.98 215.83 L1050.55 215.63 L1051.11 215.43 L1051.66 215.23 L1052.21 215.03 L1052.75 214.83 L1053.29 214.63 L1053.81 214.43 L1054.33 214.23 L1054.84 214.04 L1055.34 213.84 L1055.84 213.64 L1056.33 213.44 L1056.81 213.25 L1057.28 213.05 L1057.75 212.86 L1058.2 212.66 L1058.65 212.47 L1059.1 212.28 L1059.53 212.08 L1059.96 211.89 L1060.38 211.7 L1060.79 211.51 L1061.2 211.32 L1061.59 211.13 L1061.98 210.94 L1062.36 210.76 L1062.74 210.57 L1063.1 210.39 L1063.46 210.2 L1063.81 210.02 L1064.15 209.84 L1064.49 209.66 L1064.81 209.48 L1065.13 209.3 L1065.44 209.12 L1065.74 208.94 L1066.04 208.77 L1066.33 208.6 L1066.61 208.42 L1066.88 208.25 L1067.14 208.08 L1067.39 207.92 L1067.64 207.75 L1067.88 207.58 L1068.11 207.42 L1068.33 207.26 L1068.55 207.1 L1068.76 206.94 L1068.96 206.79 L1069.15 206.64 L1069.33 206.48 L1069.5 206.34 L1069.67 206.19 L1069.83 206.04 L1069.98 205.9 L1070.12 205.76 L1070.26 205.62 L1070.38 205.49 L1070.5 205.36 L1070.61 205.23 L1070.71 205.11 L1070.81 204.98 L1070.89 204.87 L1070.97 204.75 L1071.04 204.64 L1071.1 204.54 L1071.15 204.44 L1071.2 204.34 L1071.23 204.25 L1071.26 204.17 L1071.28 204.1 L1071.3 204.04Z" fill="#fff" stroke="#000" stroke-width="2.1"/>
<ellipse cx="880.7" cy="204" rx="96.3" ry="31.1" fill="#fff" stroke="#000" stroke-width="2.2"/>
<ellipse cx="880.7" cy="204" rx="91.6" ry="28.2" fill="none" stroke="#000" stroke-width="2.2"/>
<circle cx="807.8" cy="195.2" r="2.4" fill="#fff" stroke="#000" stroke-width="1.4"/>
<circle cx="807.8" cy="213.3" r="2.4" fill="#fff" stroke="#000" stroke-width="1.4"/>
<circle cx="821.6" cy="213.3" r="2.4" fill="#fff" stroke="#000" stroke-width="1.4"/>
<circle cx="832.2" cy="203.8" r="2.4" fill="#fff" stroke="#000" stroke-width="1.4"/>
<circle cx="929.3" cy="203.8" r="2.4" fill="#fff" stroke="#000" stroke-width="1.4"/>
<circle cx="953.6" cy="195.2" r="2.4" fill="#fff" stroke="#000" stroke-width="1.4"/>
<circle cx="953.6" cy="213.3" r="2.4" fill="#fff" stroke="#000" stroke-width="1.4"/>
<path d="M807.8 153.6V179.4 M807.8 227.8V254.4 M953.6 153.6V179.4 M953.6 227.8V254.4" stroke="#000" stroke-width="2" fill="none"/>
<circle cx="658.1" cy="201.69" r="5.1" fill="#fff" stroke="#000" stroke-width="1.8"/>
<circle cx="709.9" cy="171.58" r="5.1" fill="#fff" stroke="#000" stroke-width="1.8"/>
<circle cx="709.9" cy="236.42" r="5.1" fill="#fff" stroke="#000" stroke-width="1.8"/>
<circle cx="765.7" cy="159.51" r="5.1" fill="#fff" stroke="#000" stroke-width="1.8"/>
<circle cx="765.7" cy="248.49" r="5.1" fill="#fff" stroke="#000" stroke-width="1.8"/>
<circle cx="826.9" cy="152.97" r="5.1" fill="#fff" stroke="#000" stroke-width="1.8"/>
<circle cx="826.9" cy="255.03" r="5.1" fill="#fff" stroke="#000" stroke-width="1.8"/>
<circle cx="880.9" cy="151.25" r="5.1" fill="#fff" stroke="#000" stroke-width="1.8"/>
<circle cx="880.9" cy="256.75" r="5.1" fill="#fff" stroke="#000" stroke-width="1.8"/>
<circle cx="934.9" cy="152.97" r="5.1" fill="#fff" stroke="#000" stroke-width="1.8"/>
<circle cx="934.9" cy="255.03" r="5.1" fill="#fff" stroke="#000" stroke-width="1.8"/>
<circle cx="996.1" cy="159.51" r="5.1" fill="#fff" stroke="#000" stroke-width="1.8"/>
<circle cx="996.1" cy="248.49" r="5.1" fill="#fff" stroke="#000" stroke-width="1.8"/>
<circle cx="1051.9" cy="171.58" r="5.1" fill="#fff" stroke="#000" stroke-width="1.8"/>
<circle cx="1051.9" cy="236.42" r="5.1" fill="#fff" stroke="#000" stroke-width="1.8"/>
<circle cx="1103.7" cy="201.69" r="5.1" fill="#fff" stroke="#000" stroke-width="1.8"/>
<path d="M634.4 314.4H1123.1 M634.4 303V325.6 M1123.1 303V325.6" stroke="#111" stroke-width="1.6" fill="none"/>
<path d="M1146.7 130.8V277.1 M1136.2 130.8H1158 M1136.2 277.1H1158" stroke="#222" stroke-width="1.6" fill="none"/>
<text x="808.8" y="347.3" font-size="37.2" font-family="Liberation Sans, sans-serif" stroke="#000" stroke-width="0.35" textLength="144.6" lengthAdjust="spacingAndGlyphs">1000 мм</text>
<text transform="translate(1181.9 264.6) rotate(-90)" font-size="38" font-family="Liberation Sans, sans-serif" stroke="#000" stroke-width="0.35" textLength="123.6" lengthAdjust="spacingAndGlyphs">300 мм</text>
<path d="M578.9 468.9V450.2H857.5V468.9" fill="#fff" stroke="#000" stroke-width="2.4"/>
<path d="M571 468.9H865.3" stroke="#000" stroke-width="3.1" stroke-linecap="round"/>
<path d="M608.2 469V910 M621.6 469V910 M828.4 469V910 M839.5 469V910" stroke="#000" stroke-width="3.2" fill="none"/>
<path d="M602.7 469.5H626.2L624.5 472.2H604.4Z M822.8 469.5H845.2L843.5 472.2H824.5Z" fill="#000"/>
<rect x="605.2" y="472" width="6" height="5.8" rx="2" fill="#000"/>
<rect x="607.5" y="473" width="1.4" height="3" fill="#fff"/>
<rect x="618.6" y="472" width="6" height="5.8" rx="2" fill="#000"/>
<rect x="620.9" y="473" width="1.4" height="3" fill="#fff"/>
<rect x="825.4" y="472" width="6" height="5.8" rx="2" fill="#000"/>
<rect x="827.7" y="473" width="1.4" height="3" fill="#fff"/>
<rect x="836.5" y="472" width="6" height="5.8" rx="2" fill="#000"/>
<rect x="838.8" y="473" width="1.4" height="3" fill="#fff"/>
<path d="M625.2 470V482.3H637.6V470" fill="#fff" stroke="#000" stroke-width="2.2"/>
<rect x="628.5" y="476.5" width="5.4" height="5" fill="#fff" stroke="#000" stroke-width="2"/>
<path d="M631 483.5 C631 505 628 530 620 555 C612 580 614 600 625 625 C636 650 643 680 641 710 C639 740 626 775 618 815 C611 850 610.75 880 610.75 912" stroke="#000" stroke-width="6" fill="none"/>
<path d="M631 483.5 C631 505 628 530 620 555 C612 580 614 600 625 625 C636 650 643 680 641 710 C639 740 626 775 618 815 C611 850 610.75 880 610.75 912" stroke="#fff" stroke-width="2.2" fill="none"/>
<rect x="368" y="944.5" width="700.6" height="58" fill="#000"/><rect x="368" y="1030" width="700.6" height="60" fill="#000"/>
<g fill="#fff" stroke="#000" stroke-width="2.2"><rect x="406.65" y="907.7" width="4.2" height="96.7"/><rect x="406.65" y="1028" width="4.2" height="99.2"/><rect x="415.4" y="907.7" width="4.2" height="96.7"/><rect x="415.4" y="1028" width="4.2" height="99.2"/><rect x="425.1" y="907.7" width="4.2" height="96.7"/><rect x="425.1" y="1028" width="4.2" height="99.2"/><rect x="434.8" y="907.7" width="4.2" height="96.7"/><rect x="434.8" y="1028" width="4.2" height="99.2"/><rect x="444.5" y="907.7" width="4.2" height="96.7"/><rect x="444.5" y="1028" width="4.2" height="99.2"/><rect x="454.5" y="907.7" width="4.2" height="96.7"/><rect x="454.5" y="1028" width="4.2" height="99.2"/><rect x="464.65" y="907.7" width="4.2" height="96.7"/><rect x="464.65" y="1028" width="4.2" height="99.2"/><rect x="474.89" y="907.7" width="4.2" height="96.7"/><rect x="474.89" y="1028" width="4.2" height="99.2"/><rect x="485.19" y="907.7" width="4.2" height="96.7"/><rect x="485.19" y="1028" width="4.2" height="99.2"/><rect x="495.5" y="907.7" width="4.2" height="96.7"/><rect x="495.5" y="1028" width="4.2" height="99.2"/><rect x="505.8" y="907.7" width="4.2" height="96.7"/><rect x="505.8" y="1028" width="4.2" height="99.2"/><rect x="516.1" y="907.7" width="4.2" height="96.7"/><rect x="516.1" y="1028" width="4.2" height="99.2"/><rect x="526.4" y="907.7" width="4.2" height="96.7"/><rect x="526.4" y="1028" width="4.2" height="99.2"/><rect x="536.4" y="907.7" width="4.2" height="96.7"/><rect x="536.4" y="1028" width="4.2" height="99.2"/><rect x="547" y="907.7" width="4.2" height="96.7"/><rect x="547" y="1028" width="4.2" height="99.2"/><rect x="557.35" y="907.7" width="4.2" height="96.7"/><rect x="557.35" y="1028" width="4.2" height="99.2"/><rect x="568" y="907.7" width="4.2" height="96.7"/><rect x="568" y="1028" width="4.2" height="99.2"/><rect x="578.3" y="907.7" width="4.2" height="96.7"/><rect x="578.3" y="1028" width="4.2" height="99.2"/><rect x="588.77" y="907.7" width="4.2" height="96.7"/><rect x="588.77" y="1028" width="4.2" height="99.2"/><rect x="599.34" y="907.7" width="4.2" height="96.7"/><rect x="599.34" y="1028" width="4.2" height="99.2"/><rect x="609.98" y="907.7" width="4.2" height="96.7"/><rect x="609.98" y="1028" width="4.2" height="99.2"/><rect x="620.68" y="907.7" width="4.2" height="96.7"/><rect x="620.68" y="1028" width="4.2" height="99.2"/><rect x="631.4" y="907.7" width="4.2" height="96.7"/><rect x="631.4" y="1028" width="4.2" height="99.2"/><rect x="642.14" y="907.7" width="4.2" height="96.7"/><rect x="642.14" y="1028" width="4.2" height="99.2"/><rect x="652.86" y="907.7" width="4.2" height="96.7"/><rect x="652.86" y="1028" width="4.2" height="99.2"/><rect x="663.54" y="907.7" width="4.2" height="96.7"/><rect x="663.54" y="1028" width="4.2" height="99.2"/><rect x="674.17" y="907.7" width="4.2" height="96.7"/><rect x="674.17" y="1028" width="4.2" height="99.2"/><rect x="684.71" y="907.7" width="4.2" height="96.7"/><rect x="684.71" y="1028" width="4.2" height="99.2"/><rect x="695.15" y="907.7" width="4.2" height="96.7"/><rect x="695.15" y="1028" width="4.2" height="99.2"/><rect x="705.4" y="907.7" width="4.2" height="96.7"/><rect x="705.4" y="1028" width="4.2" height="99.2"/><rect x="716.2" y="907.7" width="4.2" height="96.7"/><rect x="716.2" y="1028" width="4.2" height="99.2"/><rect x="727" y="907.7" width="4.2" height="96.7"/><rect x="727" y="1028" width="4.2" height="99.2"/><rect x="737.25" y="907.7" width="4.2" height="96.7"/><rect x="737.25" y="1028" width="4.2" height="99.2"/><rect x="747.69" y="907.7" width="4.2" height="96.7"/><rect x="747.69" y="1028" width="4.2" height="99.2"/><rect x="758.23" y="907.7" width="4.2" height="96.7"/><rect x="758.23" y="1028" width="4.2" height="99.2"/><rect x="768.86" y="907.7" width="4.2" height="96.7"/><rect x="768.86" y="1028" width="4.2" height="99.2"/><rect x="779.54" y="907.7" width="4.2" height="96.7"/><rect x="779.54" y="1028" width="4.2" height="99.2"/><rect x="790.26" y="907.7" width="4.2" height="96.7"/><rect x="790.26" y="1028" width="4.2" height="99.2"/><rect x="801" y="907.7" width="4.2" height="96.7"/><rect x="801" y="1028" width="4.2" height="99.2"/><rect x="811.72" y="907.7" width="4.2" height="96.7"/><rect x="811.72" y="1028" width="4.2" height="99.2"/><rect x="822.42" y="907.7" width="4.2" height="96.7"/><rect x="822.42" y="1028" width="4.2" height="99.2"/><rect x="833.06" y="907.7" width="4.2" height="96.7"/><rect x="833.06" y="1028" width="4.2" height="99.2"/><rect x="843.63" y="907.7" width="4.2" height="96.7"/><rect x="843.63" y="1028" width="4.2" height="99.2"/><rect x="854.1" y="907.7" width="4.2" height="96.7"/><rect x="854.1" y="1028" width="4.2" height="99.2"/><rect x="864.4" y="907.7" width="4.2" height="96.7"/><rect x="864.4" y="1028" width="4.2" height="99.2"/><rect x="875.05" y="907.7" width="4.2" height="96.7"/><rect x="875.05" y="1028" width="4.2" height="99.2"/><rect x="885.4" y="907.7" width="4.2" height="96.7"/><rect x="885.4" y="1028" width="4.2" height="99.2"/><rect x="896" y="907.7" width="4.2" height="96.7"/><rect x="896" y="1028" width="4.2" height="99.2"/><rect x="906" y="907.7" width="4.2" height="96.7"/><rect x="906" y="1028" width="4.2" height="99.2"/><rect x="916.3" y="907.7" width="4.2" height="96.7"/><rect x="916.3" y="1028" width="4.2" height="99.2"/><rect x="926.6" y="907.7" width="4.2" height="96.7"/><rect x="926.6" y="1028" width="4.2" height="99.2"/><rect x="936.9" y="907.7" width="4.2" height="96.7"/><rect x="936.9" y="1028" width="4.2" height="99.2"/><rect x="947.21" y="907.7" width="4.2" height="96.7"/><rect x="947.21" y="1028" width="4.2" height="99.2"/><rect x="957.51" y="907.7" width="4.2" height="96.7"/><rect x="957.51" y="1028" width="4.2" height="99.2"/><rect x="967.75" y="907.7" width="4.2" height="96.7"/><rect x="967.75" y="1028" width="4.2" height="99.2"/><rect x="977.9" y="907.7" width="4.2" height="96.7"/><rect x="977.9" y="1028" width="4.2" height="99.2"/><rect x="987.9" y="907.7" width="4.2" height="96.7"/><rect x="987.9" y="1028" width="4.2" height="99.2"/><rect x="997.6" y="907.7" width="4.2" height="96.7"/><rect x="997.6" y="1028" width="4.2" height="99.2"/><rect x="1007.3" y="907.7" width="4.2" height="96.7"/><rect x="1007.3" y="1028" width="4.2" height="99.2"/><rect x="1017" y="907.7" width="4.2" height="96.7"/><rect x="1017" y="1028" width="4.2" height="99.2"/><rect x="1025.75" y="907.7" width="4.2" height="96.7"/><rect x="1025.75" y="1028" width="4.2" height="99.2"/><rect x="393.7" y="926" width="4.2" height="78.4"/><rect x="393.7" y="1028" width="4.2" height="80.3"/><rect x="400.8" y="926" width="4.2" height="78.4"/><rect x="400.8" y="1028" width="4.2" height="80.3"/><rect x="409.7" y="926" width="4.2" height="78.4"/><rect x="409.7" y="1028" width="4.2" height="80.3"/><rect x="419.3" y="926" width="4.2" height="78.4"/><rect x="419.3" y="1028" width="4.2" height="80.3"/><rect x="428.3" y="926" width="4.2" height="78.4"/><rect x="428.3" y="1028" width="4.2" height="80.3"/><rect x="438" y="926" width="4.2" height="78.4"/><rect x="438" y="1028" width="4.2" height="80.3"/><rect x="447.6" y="926" width="4.2" height="78.4"/><rect x="447.6" y="1028" width="4.2" height="80.3"/><rect x="457.9" y="926" width="4.2" height="78.4"/><rect x="457.9" y="1028" width="4.2" height="80.3"/><rect x="467.9" y="926" width="4.2" height="78.4"/><rect x="467.9" y="1028" width="4.2" height="80.3"/><rect x="477.9" y="926" width="4.2" height="78.4"/><rect x="477.9" y="1028" width="4.2" height="80.3"/><rect x="487.9" y="926" width="4.2" height="78.4"/><rect x="487.9" y="1028" width="4.2" height="80.3"/><rect x="497.9" y="926" width="4.2" height="78.4"/><rect x="497.9" y="1028" width="4.2" height="80.3"/><rect x="508.2" y="926" width="4.2" height="78.4"/><rect x="508.2" y="1028" width="4.2" height="80.3"/><rect x="518.54" y="926" width="4.2" height="78.4"/><rect x="518.54" y="1028" width="4.2" height="80.3"/><rect x="528.9" y="926" width="4.2" height="78.4"/><rect x="528.9" y="1028" width="4.2" height="80.3"/><rect x="539.28" y="926" width="4.2" height="78.4"/><rect x="539.28" y="1028" width="4.2" height="80.3"/><rect x="549.67" y="926" width="4.2" height="78.4"/><rect x="549.67" y="1028" width="4.2" height="80.3"/><rect x="560.07" y="926" width="4.2" height="78.4"/><rect x="560.07" y="1028" width="4.2" height="80.3"/><rect x="570.49" y="926" width="4.2" height="78.4"/><rect x="570.49" y="1028" width="4.2" height="80.3"/><rect x="580.9" y="926" width="4.2" height="78.4"/><rect x="580.9" y="1028" width="4.2" height="80.3"/><rect x="591.33" y="926" width="4.2" height="78.4"/><rect x="591.33" y="1028" width="4.2" height="80.3"/><rect x="601.75" y="926" width="4.2" height="78.4"/><rect x="601.75" y="1028" width="4.2" height="80.3"/><rect x="612.17" y="926" width="4.2" height="78.4"/><rect x="612.17" y="1028" width="4.2" height="80.3"/><rect x="622.59" y="926" width="4.2" height="78.4"/><rect x="622.59" y="1028" width="4.2" height="80.3"/><rect x="633" y="926" width="4.2" height="78.4"/><rect x="633" y="1028" width="4.2" height="80.3"/><rect x="643.39" y="926" width="4.2" height="78.4"/><rect x="643.39" y="1028" width="4.2" height="80.3"/><rect x="653.78" y="926" width="4.2" height="78.4"/><rect x="653.78" y="1028" width="4.2" height="80.3"/><rect x="664.15" y="926" width="4.2" height="78.4"/><rect x="664.15" y="1028" width="4.2" height="80.3"/><rect x="674.51" y="926" width="4.2" height="78.4"/><rect x="674.51" y="1028" width="4.2" height="80.3"/><rect x="684.84" y="926" width="4.2" height="78.4"/><rect x="684.84" y="1028" width="4.2" height="80.3"/><rect x="695.15" y="926" width="4.2" height="78.4"/><rect x="695.15" y="1028" width="4.2" height="80.3"/><rect x="705.4" y="926" width="4.2" height="78.4"/><rect x="705.4" y="1028" width="4.2" height="80.3"/><rect x="716.2" y="926" width="4.2" height="78.4"/><rect x="716.2" y="1028" width="4.2" height="80.3"/><rect x="727" y="926" width="4.2" height="78.4"/><rect x="727" y="1028" width="4.2" height="80.3"/><rect x="737.25" y="926" width="4.2" height="78.4"/><rect x="737.25" y="1028" width="4.2" height="80.3"/><rect x="747.56" y="926" width="4.2" height="78.4"/><rect x="747.56" y="1028" width="4.2" height="80.3"/><rect x="757.89" y="926" width="4.2" height="78.4"/><rect x="757.89" y="1028" width="4.2" height="80.3"/><rect x="768.25" y="926" width="4.2" height="78.4"/><rect x="768.25" y="1028" width="4.2" height="80.3"/><rect x="778.62" y="926" width="4.2" height="78.4"/><rect x="778.62" y="1028" width="4.2" height="80.3"/><rect x="789.01" y="926" width="4.2" height="78.4"/><rect x="789.01" y="1028" width="4.2" height="80.3"/><rect x="799.4" y="926" width="4.2" height="78.4"/><rect x="799.4" y="1028" width="4.2" height="80.3"/><rect x="809.81" y="926" width="4.2" height="78.4"/><rect x="809.81" y="1028" width="4.2" height="80.3"/><rect x="820.23" y="926" width="4.2" height="78.4"/><rect x="820.23" y="1028" width="4.2" height="80.3"/><rect x="830.65" y="926" width="4.2" height="78.4"/><rect x="830.65" y="1028" width="4.2" height="80.3"/><rect x="841.07" y="926" width="4.2" height="78.4"/><rect x="841.07" y="1028" width="4.2" height="80.3"/><rect x="851.5" y="926" width="4.2" height="78.4"/><rect x="851.5" y="1028" width="4.2" height="80.3"/><rect x="861.91" y="926" width="4.2" height="78.4"/><rect x="861.91" y="1028" width="4.2" height="80.3"/><rect x="872.33" y="926" width="4.2" height="78.4"/><rect x="872.33" y="1028" width="4.2" height="80.3"/><rect x="882.73" y="926" width="4.2" height="78.4"/><rect x="882.73" y="1028" width="4.2" height="80.3"/><rect x="893.12" y="926" width="4.2" height="78.4"/><rect x="893.12" y="1028" width="4.2" height="80.3"/><rect x="903.5" y="926" width="4.2" height="78.4"/><rect x="903.5" y="1028" width="4.2" height="80.3"/><rect x="913.86" y="926" width="4.2" height="78.4"/><rect x="913.86" y="1028" width="4.2" height="80.3"/><rect x="924.2" y="926" width="4.2" height="78.4"/><rect x="924.2" y="1028" width="4.2" height="80.3"/><rect x="934.5" y="926" width="4.2" height="78.4"/><rect x="934.5" y="1028" width="4.2" height="80.3"/><rect x="944.5" y="926" width="4.2" height="78.4"/><rect x="944.5" y="1028" width="4.2" height="80.3"/><rect x="954.5" y="926" width="4.2" height="78.4"/><rect x="954.5" y="1028" width="4.2" height="80.3"/><rect x="964.5" y="926" width="4.2" height="78.4"/><rect x="964.5" y="1028" width="4.2" height="80.3"/><rect x="974.5" y="926" width="4.2" height="78.4"/><rect x="974.5" y="1028" width="4.2" height="80.3"/><rect x="984.8" y="926" width="4.2" height="78.4"/><rect x="984.8" y="1028" width="4.2" height="80.3"/><rect x="994.4" y="926" width="4.2" height="78.4"/><rect x="994.4" y="1028" width="4.2" height="80.3"/><rect x="1004.1" y="926" width="4.2" height="78.4"/><rect x="1004.1" y="1028" width="4.2" height="80.3"/><rect x="1013.1" y="926" width="4.2" height="78.4"/><rect x="1013.1" y="1028" width="4.2" height="80.3"/><rect x="1022.7" y="926" width="4.2" height="78.4"/><rect x="1022.7" y="1028" width="4.2" height="80.3"/><rect x="1031.6" y="926" width="4.2" height="78.4"/><rect x="1031.6" y="1028" width="4.2" height="80.3"/><rect x="1038.7" y="926" width="4.2" height="78.4"/><rect x="1038.7" y="1028" width="4.2" height="80.3"/><rect x="370" y="964" width="286.3" height="38" fill="#000" stroke="none"/><rect x="370" y="1030" width="286.3" height="41" fill="#000" stroke="none"/><rect x="780.3" y="964" width="286.3" height="38" fill="#000" stroke="none"/><rect x="780.3" y="1030" width="286.3" height="41" fill="#000" stroke="none"/><rect x="366.1" y="944.4" width="4.2" height="60"/><rect x="366.1" y="1028" width="4.2" height="62.1"/><rect x="368.9" y="944.4" width="4.2" height="60"/><rect x="368.9" y="1028" width="4.2" height="62.1"/><rect x="374.8" y="944.4" width="4.2" height="60"/><rect x="374.8" y="1028" width="4.2" height="62.1"/><rect x="381.9" y="944.4" width="4.2" height="60"/><rect x="381.9" y="1028" width="4.2" height="62.1"/><rect x="390.4" y="944.4" width="4.2" height="60"/><rect x="390.4" y="1028" width="4.2" height="62.1"/><rect x="399.1" y="944.4" width="4.2" height="60"/><rect x="399.1" y="1028" width="4.2" height="62.1"/><rect x="408.4" y="944.4" width="4.2" height="60"/><rect x="408.4" y="1028" width="4.2" height="62.1"/><rect x="417.8" y="944.4" width="4.2" height="60"/><rect x="417.8" y="1028" width="4.2" height="62.1"/><rect x="427.4" y="944.4" width="4.2" height="60"/><rect x="427.4" y="1028" width="4.2" height="62.1"/><rect x="437.3" y="944.4" width="4.2" height="60"/><rect x="437.3" y="1028" width="4.2" height="62.1"/><rect x="446.65" y="944.4" width="4.2" height="60"/><rect x="446.65" y="1028" width="4.2" height="62.1"/><rect x="456.3" y="944.4" width="4.2" height="60"/><rect x="456.3" y="1028" width="4.2" height="62.1"/><rect x="465.9" y="944.4" width="4.2" height="60"/><rect x="465.9" y="1028" width="4.2" height="62.1"/><rect x="475.9" y="944.4" width="4.2" height="60"/><rect x="475.9" y="1028" width="4.2" height="62.1"/><rect x="485.9" y="944.4" width="4.2" height="60"/><rect x="485.9" y="1028" width="4.2" height="62.1"/><rect x="495.7" y="944.4" width="4.2" height="60"/><rect x="495.7" y="1028" width="4.2" height="62.1"/><rect x="505.7" y="944.4" width="4.2" height="60"/><rect x="505.7" y="1028" width="4.2" height="62.1"/><rect x="515.9" y="944.4" width="4.2" height="60"/><rect x="515.9" y="1028" width="4.2" height="62.1"/><rect x="526.14" y="944.4" width="4.2" height="60"/><rect x="526.14" y="1028" width="4.2" height="62.1"/><rect x="536.41" y="944.4" width="4.2" height="60"/><rect x="536.41" y="1028" width="4.2" height="62.1"/><rect x="546.7" y="944.4" width="4.2" height="60"/><rect x="546.7" y="1028" width="4.2" height="62.1"/><rect x="557.01" y="944.4" width="4.2" height="60"/><rect x="557.01" y="1028" width="4.2" height="62.1"/><rect x="567.33" y="944.4" width="4.2" height="60"/><rect x="567.33" y="1028" width="4.2" height="62.1"/><rect x="577.65" y="944.4" width="4.2" height="60"/><rect x="577.65" y="1028" width="4.2" height="62.1"/><rect x="587.99" y="944.4" width="4.2" height="60"/><rect x="587.99" y="1028" width="4.2" height="62.1"/><rect x="598.32" y="944.4" width="4.2" height="60"/><rect x="598.32" y="1028" width="4.2" height="62.1"/><rect x="608.66" y="944.4" width="4.2" height="60"/><rect x="608.66" y="1028" width="4.2" height="62.1"/><rect x="618.98" y="944.4" width="4.2" height="60"/><rect x="618.98" y="1028" width="4.2" height="62.1"/><rect x="629.3" y="944.4" width="4.2" height="60"/><rect x="629.3" y="1028" width="4.2" height="62.1"/><rect x="639.61" y="944.4" width="4.2" height="60"/><rect x="639.61" y="1028" width="4.2" height="62.1"/><rect x="649.89" y="944.4" width="4.2" height="60"/><rect x="649.89" y="1028" width="4.2" height="62.1"/><rect x="660.16" y="944.4" width="4.2" height="60"/><rect x="660.16" y="1028" width="4.2" height="62.1"/><rect x="670.4" y="944.4" width="4.2" height="60"/><rect x="670.4" y="1028" width="4.2" height="62.1"/><rect x="680.62" y="944.4" width="4.2" height="60"/><rect x="680.62" y="1028" width="4.2" height="62.1"/><rect x="690.8" y="944.4" width="4.2" height="60"/><rect x="690.8" y="1028" width="4.2" height="62.1"/><rect x="700.9" y="944.4" width="4.2" height="60"/><rect x="700.9" y="1028" width="4.2" height="62.1"/><rect x="711.05" y="944.4" width="4.2" height="60"/><rect x="711.05" y="1028" width="4.2" height="62.1"/><rect x="721.35" y="944.4" width="4.2" height="60"/><rect x="721.35" y="1028" width="4.2" height="62.1"/><rect x="731.5" y="944.4" width="4.2" height="60"/><rect x="731.5" y="1028" width="4.2" height="62.1"/><rect x="741.6" y="944.4" width="4.2" height="60"/><rect x="741.6" y="1028" width="4.2" height="62.1"/><rect x="751.78" y="944.4" width="4.2" height="60"/><rect x="751.78" y="1028" width="4.2" height="62.1"/><rect x="762" y="944.4" width="4.2" height="60"/><rect x="762" y="1028" width="4.2" height="62.1"/><rect x="772.24" y="944.4" width="4.2" height="60"/><rect x="772.24" y="1028" width="4.2" height="62.1"/><rect x="782.51" y="944.4" width="4.2" height="60"/><rect x="782.51" y="1028" width="4.2" height="62.1"/><rect x="792.79" y="944.4" width="4.2" height="60"/><rect x="792.79" y="1028" width="4.2" height="62.1"/><rect x="803.1" y="944.4" width="4.2" height="60"/><rect x="803.1" y="1028" width="4.2" height="62.1"/><rect x="813.42" y="944.4" width="4.2" height="60"/><rect x="813.42" y="1028" width="4.2" height="62.1"/><rect x="823.74" y="944.4" width="4.2" height="60"/><rect x="823.74" y="1028" width="4.2" height="62.1"/><rect x="834.08" y="944.4" width="4.2" height="60"/><rect x="834.08" y="1028" width="4.2" height="62.1"/><rect x="844.41" y="944.4" width="4.2" height="60"/><rect x="844.41" y="1028" width="4.2" height="62.1"/><rect x="854.75" y="944.4" width="4.2" height="60"/><rect x="854.75" y="1028" width="4.2" height="62.1"/><rect x="865.07" y="944.4" width="4.2" height="60"/><rect x="865.07" y="1028" width="4.2" height="62.1"/><rect x="875.39" y="944.4" width="4.2" height="60"/><rect x="875.39" y="1028" width="4.2" height="62.1"/><rect x="885.7" y="944.4" width="4.2" height="60"/><rect x="885.7" y="1028" width="4.2" height="62.1"/><rect x="895.99" y="944.4" width="4.2" height="60"/><rect x="895.99" y="1028" width="4.2" height="62.1"/><rect x="906.26" y="944.4" width="4.2" height="60"/><rect x="906.26" y="1028" width="4.2" height="62.1"/><rect x="916.5" y="944.4" width="4.2" height="60"/><rect x="916.5" y="1028" width="4.2" height="62.1"/><rect x="926.7" y="944.4" width="4.2" height="60"/><rect x="926.7" y="1028" width="4.2" height="62.1"/><rect x="936.7" y="944.4" width="4.2" height="60"/><rect x="936.7" y="1028" width="4.2" height="62.1"/><rect x="946.5" y="944.4" width="4.2" height="60"/><rect x="946.5" y="1028" width="4.2" height="62.1"/><rect x="956.5" y="944.4" width="4.2" height="60"/><rect x="956.5" y="1028" width="4.2" height="62.1"/><rect x="966.5" y="944.4" width="4.2" height="60"/><rect x="966.5" y="1028" width="4.2" height="62.1"/><rect x="976.1" y="944.4" width="4.2" height="60"/><rect x="976.1" y="1028" width="4.2" height="62.1"/><rect x="985.75" y="944.4" width="4.2" height="60"/><rect x="985.75" y="1028" width="4.2" height="62.1"/><rect x="995.1" y="944.4" width="4.2" height="60"/><rect x="995.1" y="1028" width="4.2" height="62.1"/><rect x="1005" y="944.4" width="4.2" height="60"/><rect x="1005" y="1028" width="4.2" height="62.1"/><rect x="1014.6" y="944.4" width="4.2" height="60"/><rect x="1014.6" y="1028" width="4.2" height="62.1"/><rect x="1024" y="944.4" width="4.2" height="60"/><rect x="1024" y="1028" width="4.2" height="62.1"/><rect x="1033.3" y="944.4" width="4.2" height="60"/><rect x="1033.3" y="1028" width="4.2" height="62.1"/><rect x="1042" y="944.4" width="4.2" height="60"/><rect x="1042" y="1028" width="4.2" height="62.1"/><rect x="1050.5" y="944.4" width="4.2" height="60"/><rect x="1050.5" y="1028" width="4.2" height="62.1"/><rect x="1057.6" y="944.4" width="4.2" height="60"/><rect x="1057.6" y="1028" width="4.2" height="62.1"/><rect x="1063.5" y="944.4" width="4.2" height="60"/><rect x="1063.5" y="1028" width="4.2" height="62.1"/><rect x="1066.3" y="944.4" width="4.2" height="60"/><rect x="1066.3" y="1028" width="4.2" height="62.1"/><rect x="356.6" y="962.6" width="4.2" height="41.8"/><rect x="356.6" y="1028" width="4.2" height="44"/><rect x="358.8" y="962.6" width="4.2" height="41.8"/><rect x="358.8" y="1028" width="4.2" height="44"/><rect x="363.8" y="962.6" width="4.2" height="41.8"/><rect x="363.8" y="1028" width="4.2" height="44"/><rect x="369.8" y="962.6" width="4.2" height="41.8"/><rect x="369.8" y="1028" width="4.2" height="44"/><rect x="377.6" y="962.6" width="4.2" height="41.8"/><rect x="377.6" y="1028" width="4.2" height="44"/><rect x="385.4" y="962.6" width="4.2" height="41.8"/><rect x="385.4" y="1028" width="4.2" height="44"/><rect x="394.5" y="962.6" width="4.2" height="41.8"/><rect x="394.5" y="1028" width="4.2" height="44"/><rect x="403.2" y="962.6" width="4.2" height="41.8"/><rect x="403.2" y="1028" width="4.2" height="44"/><rect x="412.9" y="962.6" width="4.2" height="41.8"/><rect x="412.9" y="1028" width="4.2" height="44"/><rect x="421.9" y="962.6" width="4.2" height="41.8"/><rect x="421.9" y="1028" width="4.2" height="44"/><rect x="431.16" y="962.6" width="4.2" height="41.8"/><rect x="431.16" y="1028" width="4.2" height="44"/><rect x="440.7" y="962.6" width="4.2" height="41.8"/><rect x="440.7" y="1028" width="4.2" height="44"/><rect x="450.7" y="962.6" width="4.2" height="41.8"/><rect x="450.7" y="1028" width="4.2" height="44"/><rect x="460.1" y="962.6" width="4.2" height="41.8"/><rect x="460.1" y="1028" width="4.2" height="44"/><rect x="469.8" y="962.6" width="4.2" height="41.8"/><rect x="469.8" y="1028" width="4.2" height="44"/><rect x="479.8" y="962.6" width="4.2" height="41.8"/><rect x="479.8" y="1028" width="4.2" height="44"/><rect x="489.8" y="962.6" width="4.2" height="41.8"/><rect x="489.8" y="1028" width="4.2" height="44"/><rect x="499.8" y="962.6" width="4.2" height="41.8"/><rect x="499.8" y="1028" width="4.2" height="44"/><rect x="509.15" y="962.6" width="4.2" height="41.8"/><rect x="509.15" y="1028" width="4.2" height="44"/><rect x="519.15" y="962.6" width="4.2" height="41.8"/><rect x="519.15" y="1028" width="4.2" height="44"/><rect x="529.17" y="962.6" width="4.2" height="41.8"/><rect x="529.17" y="1028" width="4.2" height="44"/><rect x="539.17" y="962.6" width="4.2" height="41.8"/><rect x="539.17" y="1028" width="4.2" height="44"/><rect x="549.17" y="962.6" width="4.2" height="41.8"/><rect x="549.17" y="1028" width="4.2" height="44"/><rect x="559.16" y="962.6" width="4.2" height="41.8"/><rect x="559.16" y="1028" width="4.2" height="44"/><rect x="569.16" y="962.6" width="4.2" height="41.8"/><rect x="569.16" y="1028" width="4.2" height="44"/><rect x="579.15" y="962.6" width="4.2" height="41.8"/><rect x="579.15" y="1028" width="4.2" height="44"/><rect x="589.16" y="962.6" width="4.2" height="41.8"/><rect x="589.16" y="1028" width="4.2" height="44"/><rect x="599.17" y="962.6" width="4.2" height="41.8"/><rect x="599.17" y="1028" width="4.2" height="44"/><rect x="609.19" y="962.6" width="4.2" height="41.8"/><rect x="609.19" y="1028" width="4.2" height="44"/><rect x="619.24" y="962.6" width="4.2" height="41.8"/><rect x="619.24" y="1028" width="4.2" height="44"/><rect x="629.3" y="962.6" width="4.2" height="41.8"/><rect x="629.3" y="1028" width="4.2" height="44"/><rect x="639.39" y="962.6" width="4.2" height="41.8"/><rect x="639.39" y="1028" width="4.2" height="44"/><rect x="649.5" y="962.6" width="4.2" height="41.8"/><rect x="649.5" y="1028" width="4.2" height="44"/><rect x="659.64" y="962.6" width="4.2" height="41.8"/><rect x="659.64" y="1028" width="4.2" height="44"/><rect x="669.82" y="962.6" width="4.2" height="41.8"/><rect x="669.82" y="1028" width="4.2" height="44"/><rect x="680.04" y="962.6" width="4.2" height="41.8"/><rect x="680.04" y="1028" width="4.2" height="44"/><rect x="690.3" y="962.6" width="4.2" height="41.8"/><rect x="690.3" y="1028" width="4.2" height="44"/><rect x="700.7" y="962.6" width="4.2" height="41.8"/><rect x="700.7" y="1028" width="4.2" height="44"/><rect x="711.05" y="962.6" width="4.2" height="41.8"/><rect x="711.05" y="1028" width="4.2" height="44"/><rect x="721.35" y="962.6" width="4.2" height="41.8"/><rect x="721.35" y="1028" width="4.2" height="44"/><rect x="731.7" y="962.6" width="4.2" height="41.8"/><rect x="731.7" y="1028" width="4.2" height="44"/><rect x="742.1" y="962.6" width="4.2" height="41.8"/><rect x="742.1" y="1028" width="4.2" height="44"/><rect x="752.36" y="962.6" width="4.2" height="41.8"/><rect x="752.36" y="1028" width="4.2" height="44"/><rect x="762.58" y="962.6" width="4.2" height="41.8"/><rect x="762.58" y="1028" width="4.2" height="44"/><rect x="772.76" y="962.6" width="4.2" height="41.8"/><rect x="772.76" y="1028" width="4.2" height="44"/><rect x="782.9" y="962.6" width="4.2" height="41.8"/><rect x="782.9" y="1028" width="4.2" height="44"/><rect x="793.01" y="962.6" width="4.2" height="41.8"/><rect x="793.01" y="1028" width="4.2" height="44"/><rect x="803.1" y="962.6" width="4.2" height="41.8"/><rect x="803.1" y="1028" width="4.2" height="44"/><rect x="813.16" y="962.6" width="4.2" height="41.8"/><rect x="813.16" y="1028" width="4.2" height="44"/><rect x="823.21" y="962.6" width="4.2" height="41.8"/><rect x="823.21" y="1028" width="4.2" height="44"/><rect x="833.23" y="962.6" width="4.2" height="41.8"/><rect x="833.23" y="1028" width="4.2" height="44"/><rect x="843.24" y="962.6" width="4.2" height="41.8"/><rect x="843.24" y="1028" width="4.2" height="44"/><rect x="853.25" y="962.6" width="4.2" height="41.8"/><rect x="853.25" y="1028" width="4.2" height="44"/><rect x="863.24" y="962.6" width="4.2" height="41.8"/><rect x="863.24" y="1028" width="4.2" height="44"/><rect x="873.24" y="962.6" width="4.2" height="41.8"/><rect x="873.24" y="1028" width="4.2" height="44"/><rect x="883.23" y="962.6" width="4.2" height="41.8"/><rect x="883.23" y="1028" width="4.2" height="44"/><rect x="893.23" y="962.6" width="4.2" height="41.8"/><rect x="893.23" y="1028" width="4.2" height="44"/><rect x="903.23" y="962.6" width="4.2" height="41.8"/><rect x="903.23" y="1028" width="4.2" height="44"/><rect x="913.25" y="962.6" width="4.2" height="41.8"/><rect x="913.25" y="1028" width="4.2" height="44"/><rect x="923.25" y="962.6" width="4.2" height="41.8"/><rect x="923.25" y="1028" width="4.2" height="44"/><rect x="932.6" y="962.6" width="4.2" height="41.8"/><rect x="932.6" y="1028" width="4.2" height="44"/><rect x="942.6" y="962.6" width="4.2" height="41.8"/><rect x="942.6" y="1028" width="4.2" height="44"/><rect x="952.6" y="962.6" width="4.2" height="41.8"/><rect x="952.6" y="1028" width="4.2" height="44"/><rect x="962.6" y="962.6" width="4.2" height="41.8"/><rect x="962.6" y="1028" width="4.2" height="44"/><rect x="972.3" y="962.6" width="4.2" height="41.8"/><rect x="972.3" y="1028" width="4.2" height="44"/><rect x="981.7" y="962.6" width="4.2" height="41.8"/><rect x="981.7" y="1028" width="4.2" height="44"/><rect x="991.7" y="962.6" width="4.2" height="41.8"/><rect x="991.7" y="1028" width="4.2" height="44"/><rect x="1001.24" y="962.6" width="4.2" height="41.8"/><rect x="1001.24" y="1028" width="4.2" height="44"/><rect x="1010.5" y="962.6" width="4.2" height="41.8"/><rect x="1010.5" y="1028" width="4.2" height="44"/><rect x="1019.5" y="962.6" width="4.2" height="41.8"/><rect x="1019.5" y="1028" width="4.2" height="44"/><rect x="1029.2" y="962.6" width="4.2" height="41.8"/><rect x="1029.2" y="1028" width="4.2" height="44"/><rect x="1037.9" y="962.6" width="4.2" height="41.8"/><rect x="1037.9" y="1028" width="4.2" height="44"/><rect x="1047" y="962.6" width="4.2" height="41.8"/><rect x="1047" y="1028" width="4.2" height="44"/><rect x="1054.8" y="962.6" width="4.2" height="41.8"/><rect x="1054.8" y="1028" width="4.2" height="44"/><rect x="1062.6" y="962.6" width="4.2" height="41.8"/><rect x="1062.6" y="1028" width="4.2" height="44"/><rect x="1068.6" y="962.6" width="4.2" height="41.8"/><rect x="1068.6" y="1028" width="4.2" height="44"/><rect x="1073.6" y="962.6" width="4.2" height="41.8"/><rect x="1073.6" y="1028" width="4.2" height="44"/><rect x="1075.8" y="962.6" width="4.2" height="41.8"/><rect x="1075.8" y="1028" width="4.2" height="44"/></g>
<path d="M608.2 900V945 M621.6 900V945 M828.4 900V945 M839.5 900V945" stroke="#000" stroke-width="3.2" fill="none"/>
<path d="M610.75 890V945" stroke="#000" stroke-width="6" fill="none"/>
<path d="M610.75 890V945" stroke="#fff" stroke-width="2" fill="none"/>
<rect x="351.9" y="1002.3" width="732.9" height="27.8" fill="#fff" stroke="#000" stroke-width="2.4"/>
<path d="M351.9 1015.9H1084.8" stroke="#000" stroke-width="2"/>
<path d="M923.75 443.1V564.4 M912.75 443.1H935.25 M912.75 467.25H935.25" stroke="#222" stroke-width="1.6" fill="none"/>
<text transform="translate(959 573.6) rotate(-90)" font-size="37.9" font-family="Liberation Sans, sans-serif" stroke="#000" stroke-width="0.35" textLength="103.4" lengthAdjust="spacingAndGlyphs">26 мм</text>
<path d="M1147 449.7V1127.5 M1135.9 449.7H1158.4 M1135.9 1127.5H1158.4" stroke="#222" stroke-width="1.6" fill="none"/>
<text transform="translate(1181.9 836.6) rotate(-90)" font-size="38" font-family="Liberation Sans, sans-serif" stroke="#000" stroke-width="0.35" textLength="145" lengthAdjust="spacingAndGlyphs">1200 мм</text>
<path d="M288.8 906.6V1127.3 M278.1 906.6H300.5 M278.1 1127.3H300.5" stroke="#222" stroke-width="1.6" fill="none"/>
<text transform="translate(279.1 1079.5) rotate(-90)" font-size="38" font-family="Liberation Sans, sans-serif" stroke="#000" stroke-width="0.35" textLength="125" lengthAdjust="spacingAndGlyphs">320 мм</text>
<path d="M350.9 1176.9H1085.9 M350.9 1165.6V1187.5 M1085.9 1165.6V1187.5" stroke="#222" stroke-width="1.6" fill="none"/>
<text x="655.5" y="1209.9" font-size="37.2" font-family="Liberation Sans, sans-serif" stroke="#000" stroke-width="0.35" textLength="144.5" lengthAdjust="spacingAndGlyphs">1000 мм</text></svg>
</body></html>
